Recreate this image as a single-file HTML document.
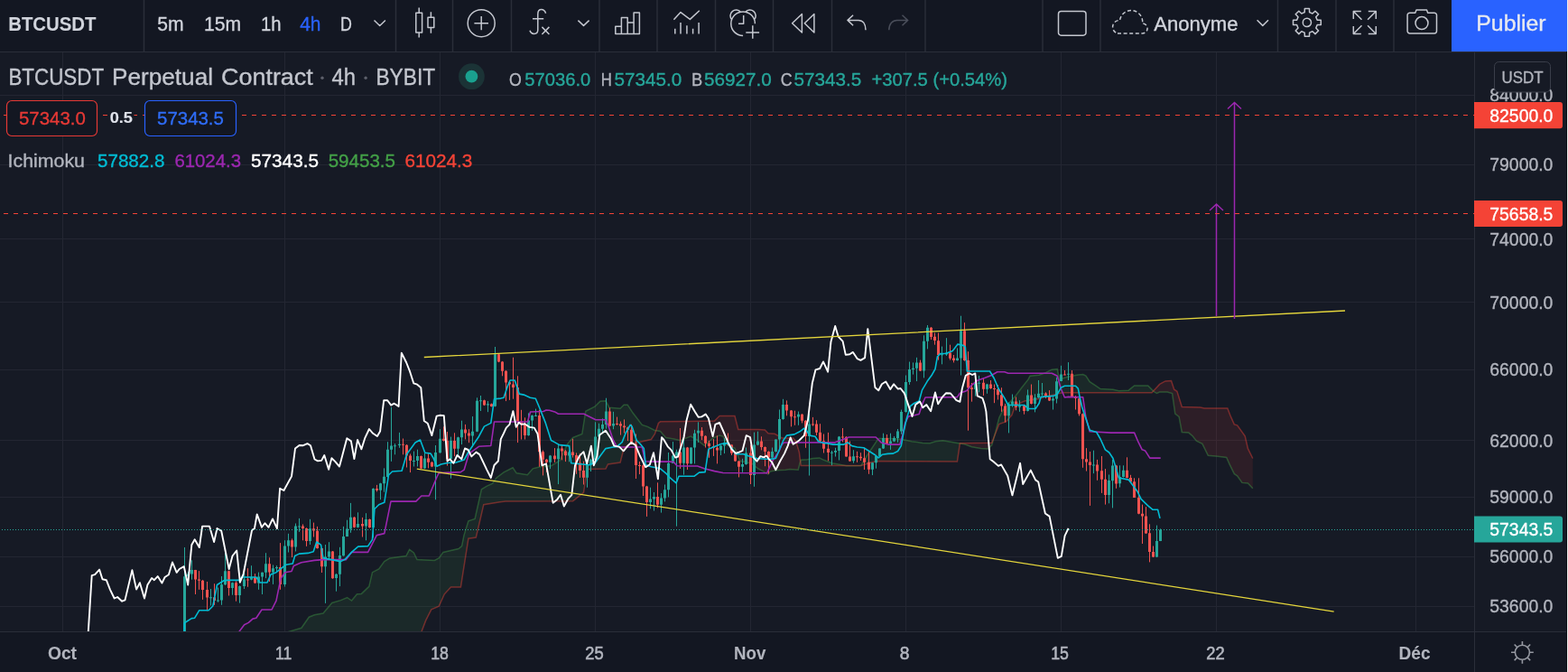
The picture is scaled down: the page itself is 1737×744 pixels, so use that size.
<!DOCTYPE html><html><head><meta charset="utf-8"><title>BTCUSDT</title><style>
html,body{margin:0;padding:0;background:#131722;width:1737px;height:744px;overflow:hidden}
svg{display:block;position:absolute;left:0;top:0}
text{font-family:"Liberation Sans",Arial,sans-serif}
</style></head><body>
<svg width="1737" height="744" viewBox="0 0 1737 744">
<defs><clipPath id="ch"><rect x="0" y="58" width="1633" height="641"/></clipPath></defs>
<rect x="0" y="0" width="1737" height="744" fill="#131722"/>
<rect x="0" y="58" width="1633" height="641" fill="#161a25"/>
<rect x="1634" y="58" width="102" height="641" fill="#161a25"/>
<path d="M0,105.5H1633 M0,182.5H1633 M0,264.5H1633 M0,334.5H1633 M0,409.5H1633 M0,487.5H1633 M0,550.5H1633 M0,616.5H1633 M0,671.5H1633 M69.5,58V699 M315.5,58V699 M487.5,58V699 M659.5,58V699 M831.5,58V699 M1003.5,58V699 M1175.5,58V699 M1347.5,58V699 M1568.5,58V699" stroke="#232632" stroke-width="1" fill="none"/>
<g clip-path="url(#ch)">
<path d="M318.0,705.0 L318.5,702.9 L319.0,700.8 L319.5,699.4 L320.0,699.3 L320.5,699.2 L321.0,699.0 L321.5,698.9 L322.0,698.7 L322.5,698.6 L323.0,698.4 L323.5,698.3 L324.0,698.1 L324.5,698.0 L325.0,697.9 L325.5,697.7 L326.0,697.6 L326.5,697.4 L327.0,697.3 L327.5,697.1 L328.0,697.0 L328.5,696.9 L329.0,696.7 L329.5,696.6 L330.0,696.4 L330.5,696.3 L331.0,696.1 L331.5,696.0 L332.0,695.8 L332.5,695.7 L333.0,695.6 L333.5,695.4 L334.0,695.2 L334.5,694.4 L335.0,693.7 L335.5,693.0 L336.0,692.3 L336.5,691.6 L337.0,690.8 L337.5,690.1 L338.0,689.4 L338.5,688.7 L339.0,688.0 L339.5,687.2 L340.0,686.5 L340.5,685.8 L341.0,685.1 L341.5,684.4 L342.0,683.6 L342.5,683.1 L343.0,682.9 L343.5,682.7 L344.0,682.5 L344.5,682.3 L345.0,682.1 L345.5,681.9 L346.0,681.7 L346.5,681.5 L347.0,681.4 L347.5,681.2 L348.0,681.0 L348.5,680.8 L349.0,680.7 L349.5,680.6 L350.0,680.5 L350.5,680.4 L351.0,680.3 L351.5,680.3 L352.0,680.2 L352.5,680.1 L353.0,680.0 L353.5,679.9 L354.0,679.8 L354.5,679.7 L355.0,679.6 L355.5,679.5 L356.0,679.5 L356.5,679.4 L357.0,679.3 L357.5,679.2 L358.0,679.1 L358.5,678.5 L359.0,677.9 L359.5,677.3 L360.0,676.7 L360.5,676.1 L361.0,675.5 L361.5,674.9 L362.0,674.3 L362.5,673.7 L363.0,673.1 L363.5,672.5 L364.0,671.9 L364.5,671.3 L365.0,670.7 L365.5,670.1 L366.0,669.5 L366.5,668.9 L367.0,668.3 L367.5,667.7 L368.0,667.4 L368.5,667.3 L369.0,667.1 L369.5,667.0 L370.0,666.8 L370.5,666.7 L371.0,666.5 L371.5,666.4 L372.0,666.2 L372.5,666.1 L373.0,665.9 L373.5,665.8 L374.0,665.6 L374.5,665.5 L375.0,665.3 L375.5,665.2 L376.0,665.0 L376.5,664.9 L377.0,664.7 L377.5,664.6 L378.0,664.3 L378.5,664.1 L379.0,663.9 L379.5,663.7 L380.0,663.5 L380.5,663.3 L381.0,663.0 L381.5,662.8 L382.0,662.6 L382.5,662.4 L383.0,662.2 L383.5,662.0 L384.0,661.8 L384.5,661.5 L385.0,661.8 L385.5,662.2 L386.0,662.5 L386.5,662.9 L387.0,663.3 L387.5,663.6 L388.0,664.0 L388.5,664.4 L389.0,664.7 L389.5,665.1 L390.0,664.5 L390.5,663.9 L391.0,663.3 L391.5,662.7 L392.0,662.1 L392.5,661.5 L393.0,660.8 L393.5,660.2 L394.0,659.6 L394.5,659.0 L395.0,658.4 L395.5,657.8 L396.0,657.8 L396.5,657.7 L397.0,657.7 L397.5,657.6 L398.0,657.6 L398.5,657.6 L399.0,657.5 L399.5,657.5 L400.0,657.4 L400.5,657.3 L401.0,656.8 L401.5,656.4 L402.0,655.9 L402.5,655.4 L403.0,654.9 L403.5,654.4 L404.0,654.0 L404.5,653.5 L405.0,653.0 L405.5,652.5 L406.0,652.1 L406.5,651.6 L407.0,651.1 L407.5,650.6 L408.0,650.2 L408.5,649.7 L409.0,648.6 L409.5,646.4 L410.0,644.3 L410.5,642.2 L411.0,640.1 L411.5,637.9 L412.0,635.8 L412.5,633.7 L413.0,633.4 L413.5,633.2 L414.0,632.9 L414.5,632.7 L415.0,632.4 L415.5,632.2 L416.0,631.9 L416.5,631.6 L417.0,631.4 L417.5,631.1 L418.0,630.9 L418.5,630.6 L419.0,630.4 L419.5,630.1 L420.0,629.6 L420.5,628.9 L421.0,628.2 L421.5,627.5 L422.0,626.8 L422.5,626.1 L423.0,625.5 L423.5,624.8 L424.0,624.1 L424.5,623.4 L425.0,622.7 L425.5,622.0 L426.0,621.5 L426.5,621.2 L427.0,620.9 L427.5,620.6 L428.0,620.2 L428.5,619.9 L429.0,619.6 L429.5,619.3 L430.0,619.0 L430.5,618.7 L431.0,618.4 L431.5,618.1 L432.0,617.9 L432.5,617.8 L433.0,617.7 L433.5,617.7 L434.0,617.6 L434.5,617.5 L435.0,617.5 L435.5,617.4 L436.0,617.3 L436.5,617.3 L437.0,617.2 L437.5,617.1 L438.0,617.1 L438.5,617.0 L439.0,616.9 L439.5,616.9 L440.0,616.8 L440.5,616.7 L441.0,616.7 L441.5,616.6 L442.0,616.5 L442.5,616.5 L443.0,616.4 L443.5,616.3 L444.0,616.3 L444.5,616.2 L445.0,616.1 L445.5,616.1 L446.0,616.0 L446.5,616.0 L447.0,615.9 L447.5,615.8 L448.0,615.8 L448.5,615.7 L449.0,615.6 L449.5,615.6 L450.0,615.3 L450.5,614.3 L451.0,613.4 L451.5,612.4 L452.0,611.4 L452.5,610.4 L453.0,609.5 L453.5,608.5 L454.0,608.6 L454.5,609.0 L455.0,609.3 L455.5,609.7 L456.0,610.1 L456.5,610.5 L457.0,610.9 L457.5,611.2 L458.0,611.6 L458.5,612.1 L459.0,613.2 L459.5,614.3 L460.0,615.3 L460.5,616.4 L461.0,617.5 L461.5,618.5 L462.0,619.6 L462.5,619.6 L463.0,619.6 L463.5,619.7 L464.0,619.7 L464.5,619.7 L465.0,619.7 L465.5,619.7 L466.0,619.8 L466.5,619.8 L467.0,619.8 L467.5,619.8 L468.0,619.8 L468.5,619.9 L469.0,619.9 L469.5,619.9 L470.0,619.9 L470.5,620.0 L471.0,620.0 L471.5,620.0 L472.0,620.0 L472.5,620.0 L473.0,620.1 L473.5,620.1 L474.0,620.1 L474.5,620.1 L475.0,620.1 L475.5,620.2 L476.0,620.2 L476.5,620.2 L477.0,620.2 L477.5,620.2 L478.0,620.3 L478.5,620.3 L479.0,620.3 L479.5,620.3 L480.0,620.3 L480.5,620.4 L481.0,620.4 L481.5,620.3 L482.0,620.1 L482.5,619.8 L483.0,619.6 L483.5,619.3 L484.0,619.0 L484.5,618.8 L485.0,618.5 L485.5,618.3 L486.0,618.0 L486.5,617.5 L487.0,616.8 L487.5,616.1 L488.0,615.5 L488.5,614.8 L489.0,614.1 L489.5,613.4 L490.0,612.8 L490.5,612.1 L491.0,611.4 L491.5,611.3 L492.0,611.2 L492.5,611.1 L493.0,610.9 L493.5,610.8 L494.0,610.7 L494.5,610.6 L495.0,610.5 L495.5,610.4 L496.0,610.3 L496.5,610.1 L497.0,610.0 L497.5,609.9 L498.0,609.8 L498.5,609.7 L499.0,609.6 L499.5,609.5 L500.0,609.3 L500.5,609.2 L501.0,609.1 L501.5,609.0 L502.0,608.9 L502.5,608.8 L503.0,608.6 L503.5,608.5 L504.0,608.4 L504.5,608.3 L505.0,608.2 L505.5,608.1 L506.0,608.0 L506.5,607.8 L507.0,607.7 L507.5,607.6 L508.0,607.5 L508.5,607.1 L509.0,606.7 L509.5,606.3 L510.0,605.9 L510.5,605.5 L511.0,605.1 L511.5,604.7 L512.0,602.6 L512.5,600.1 L513.0,597.6 L513.5,595.1 L514.0,592.6 L514.5,591.0 L515.0,589.4 L515.5,587.8 L516.0,586.2 L516.5,584.5 L517.0,582.9 L517.5,581.3 L518.0,579.7 L518.5,578.1 L519.0,576.8 L519.5,576.6 L520.0,576.4 L520.5,576.3 L521.0,576.1 L521.5,575.9 L522.0,575.8 L522.5,575.6 L523.0,575.4 L523.5,575.3 L524.0,575.1 L524.5,574.9 L525.0,574.8 L525.5,574.6 L526.0,574.4 L526.5,572.6 L527.0,570.4 L527.5,568.1 L528.0,565.9 L528.5,563.7 L529.0,561.4 L529.5,559.2 L530.0,557.0 L530.5,554.8 L531.0,552.5 L531.5,550.3 L532.0,548.1 L532.5,545.8 L533.0,543.6 L533.5,541.7 L534.0,541.4 L534.5,541.1 L535.0,540.8 L535.5,540.5 L536.0,540.2 L536.5,539.9 L537.0,539.6 L537.5,539.3 L538.0,539.0 L538.5,538.7 L539.0,538.3 L539.5,538.1 L540.0,537.8 L540.5,537.6 L541.0,537.4 L541.5,537.2 L542.0,537.0 L542.5,536.8 L543.0,536.6 L543.5,536.4 L544.0,536.1 L544.5,535.9 L545.0,535.7 L545.5,535.5 L546.0,534.8 L546.5,534.0 L547.0,533.3 L547.5,532.6 L548.0,531.8 L548.5,531.1 L549.0,530.4 L549.5,529.6 L550.0,528.9 L550.5,528.5 L551.0,528.1 L551.5,527.8 L552.0,527.4 L552.5,527.0 L553.0,526.6 L553.5,526.3 L554.0,525.9 L554.5,525.5 L555.0,525.1 L555.5,524.8 L556.0,524.4 L556.5,524.0 L557.0,523.6 L557.5,523.3 L558.0,522.9 L558.5,522.6 L559.0,522.3 L559.5,522.1 L560.0,521.8 L560.5,521.6 L561.0,521.3 L561.5,521.1 L562.0,520.8 L562.5,520.6 L563.0,520.3 L563.5,520.1 L564.0,519.8 L564.5,519.6 L565.0,519.3 L565.5,519.1 L566.0,518.8 L566.5,518.6 L567.0,518.3 L567.5,518.1 L568.0,517.8 L568.5,518.4 L569.0,519.1 L569.5,519.8 L570.0,520.6 L570.5,521.3 L571.0,522.0 L571.5,522.8 L572.0,523.5 L572.5,523.8 L573.0,523.9 L573.5,524.0 L574.0,524.1 L574.5,524.2 L575.0,524.3 L575.5,524.3 L576.0,524.4 L576.5,524.5 L577.0,524.6 L577.5,524.7 L578.0,524.8 L578.5,524.8 L579.0,524.9 L579.5,525.0 L580.0,525.1 L580.5,525.2 L581.0,525.3 L581.5,525.3 L582.0,525.4 L582.5,525.5 L583.0,525.6 L583.5,525.7 L584.0,525.8 L584.5,525.6 L585.0,525.0 L585.5,524.4 L586.0,523.8 L586.5,523.2 L587.0,522.6 L587.5,522.1 L588.0,521.5 L588.5,520.9 L589.0,520.3 L589.5,519.7 L590.0,519.1 L590.5,518.8 L591.0,518.6 L591.5,518.5 L592.0,518.4 L592.5,518.3 L593.0,518.1 L593.5,518.0 L594.0,517.9 L594.5,517.8 L595.0,517.6 L595.5,517.5 L596.0,517.4 L596.5,517.3 L597.0,517.1 L597.5,517.0 L598.0,516.9 L598.5,516.8 L599.0,516.8 L599.5,516.7 L600.0,516.7 L600.5,516.6 L601.0,516.6 L601.5,516.5 L602.0,516.5 L602.5,516.5 L603.0,516.4 L603.5,516.4 L604.0,516.3 L604.5,516.3 L605.0,516.3 L605.5,516.2 L606.0,516.2 L606.5,516.1 L607.0,516.1 L607.5,516.0 L608.0,516.0 L608.5,516.0 L609.0,515.9 L609.5,515.9 L610.0,515.8 L610.5,515.8 L611.0,515.5 L611.5,515.2 L612.0,514.9 L612.5,514.6 L613.0,514.3 L613.5,514.0 L614.0,513.7 L614.5,513.4 L615.0,513.1 L615.5,512.7 L616.0,512.4 L616.5,512.1 L617.0,511.8 L617.5,511.5 L618.0,511.2 L618.5,510.9 L619.0,510.6 L619.5,510.3 L620.0,510.0 L620.5,508.9 L621.0,507.9 L621.5,506.8 L622.0,505.7 L622.5,504.7 L623.0,503.6 L623.5,502.5 L624.0,501.4 L624.5,500.4 L625.0,499.3 L625.5,498.2 L626.0,497.2 L626.5,496.1 L627.0,495.0 L627.5,494.0 L628.0,492.9 L628.5,491.8 L629.0,491.1 L629.5,490.6 L630.0,490.0 L630.5,489.4 L631.0,488.8 L631.5,488.2 L632.0,487.6 L632.5,487.1 L633.0,486.5 L633.5,485.9 L634.0,485.3 L634.5,484.7 L635.0,484.4 L635.5,484.2 L636.0,484.0 L636.5,483.8 L637.0,483.6 L637.5,483.4 L638.0,483.2 L638.5,483.0 L639.0,482.8 L639.5,482.6 L640.0,482.4 L640.5,482.2 L641.0,482.0 L641.5,481.8 L642.0,481.6 L642.5,481.4 L643.0,481.2 L643.5,481.0 L644.0,480.8 L644.5,480.6 L645.0,479.2 L645.5,476.1 L646.0,472.9 L646.5,469.8 L647.0,466.6 L647.5,463.5 L648.0,460.3 L648.5,457.2 L649.0,455.2 L649.5,454.9 L650.0,454.7 L650.5,454.4 L651.0,454.2 L651.5,453.9 L652.0,453.7 L652.5,453.4 L653.0,453.2 L653.5,452.9 L654.0,452.7 L654.5,452.4 L655.0,452.2 L655.5,451.9 L656.0,451.7 L656.5,451.4 L657.0,451.2 L657.5,450.9 L658.0,450.7 L658.5,450.4 L659.0,450.1 L659.5,449.6 L660.0,449.1 L660.5,448.6 L661.0,448.1 L661.5,447.6 L662.0,447.1 L662.5,446.6 L663.0,446.1 L663.5,445.6 L664.0,445.1 L664.5,444.6 L665.0,444.2 L665.5,444.2 L666.0,444.1 L666.5,444.1 L667.0,444.1 L667.5,444.0 L668.0,444.0 L668.5,444.0 L669.0,443.9 L669.5,443.9 L670.0,443.9 L670.5,443.8 L671.0,443.8 L671.5,444.7 L672.0,445.7 L672.5,446.6 L673.0,447.6 L673.5,448.5 L674.0,449.4 L674.5,450.4 L675.0,451.3 L675.5,451.3 L676.0,451.4 L676.5,451.4 L677.0,451.5 L677.5,451.5 L678.0,451.5 L678.5,451.6 L679.0,451.6 L679.5,451.7 L680.0,451.7 L680.5,451.8 L681.0,451.8 L681.5,451.8 L682.0,451.9 L682.5,451.9 L683.0,452.0 L683.5,452.0 L684.0,452.0 L684.5,452.1 L685.0,452.1 L685.5,452.2 L686.0,452.2 L686.5,452.3 L687.0,452.3 L687.5,451.9 L688.0,451.4 L688.5,450.9 L689.0,450.4 L689.5,449.8 L690.0,449.3 L690.5,448.8 L691.0,448.3 L691.5,448.2 L692.0,448.2 L692.5,448.2 L693.0,448.2 L693.5,448.2 L694.0,448.2 L694.5,448.2 L695.0,448.2 L695.5,448.7 L696.0,449.4 L696.5,450.2 L697.0,450.9 L697.5,451.7 L698.0,452.4 L698.5,453.2 L699.0,454.0 L699.5,454.7 L700.0,455.5 L700.5,456.2 L701.0,457.0 L701.5,457.7 L702.0,458.3 L702.5,459.0 L703.0,459.6 L703.5,460.3 L704.0,460.9 L704.5,461.6 L705.0,462.2 L705.5,462.9 L706.0,463.5 L706.5,464.2 L707.0,464.8 L707.5,465.5 L708.0,466.1 L708.5,466.8 L709.0,467.4 L709.5,468.1 L710.0,468.7 L710.5,469.4 L711.0,470.0 L711.5,470.5 L712.0,470.6 L712.5,470.8 L713.0,471.0 L713.5,471.1 L714.0,471.3 L714.5,471.5 L715.0,471.6 L715.5,471.8 L716.0,472.0 L716.5,472.1 L717.0,472.3 L717.5,472.5 L718.0,472.8 L718.5,473.0 L719.0,473.3 L719.5,473.5 L720.0,473.8 L720.5,474.0 L721.0,474.3 L721.5,474.5 L722.0,474.8 L722.5,475.0 L723.0,475.3 L723.5,475.5 L724.0,475.8 L724.5,476.0 L725.0,476.3 L725.5,476.5 L726.0,476.6 L726.5,476.7 L727.0,476.8 L727.0,475.7 L726.5,477.2 L726.0,478.7 L725.5,480.2 L725.0,481.1 L724.5,481.8 L724.0,482.6 L723.5,483.3 L723.0,484.1 L722.5,484.8 L722.0,485.6 L721.5,486.3 L721.0,486.6 L720.5,486.7 L720.0,486.8 L719.5,486.9 L719.0,487.0 L718.5,487.2 L718.0,487.3 L717.5,487.4 L717.0,487.5 L716.5,487.6 L716.0,487.7 L715.5,487.8 L715.0,488.0 L714.5,488.1 L714.0,488.2 L713.5,488.3 L713.0,488.4 L712.5,488.5 L712.0,488.6 L711.5,488.8 L711.0,488.9 L710.5,489.0 L710.0,489.1 L709.5,489.2 L709.0,489.3 L708.5,489.4 L708.0,489.5 L707.5,489.7 L707.0,489.8 L706.5,489.9 L706.0,490.0 L705.5,490.1 L705.0,490.2 L704.5,490.3 L704.0,490.5 L703.5,490.6 L703.0,490.7 L702.5,490.8 L702.0,490.9 L701.5,491.0 L701.0,491.1 L700.5,491.2 L700.0,491.4 L699.5,491.5 L699.0,491.6 L698.5,491.7 L698.0,491.8 L697.5,491.9 L697.0,492.1 L696.5,492.4 L696.0,492.7 L695.5,493.0 L695.0,493.3 L694.5,493.6 L694.0,493.9 L693.5,494.2 L693.0,494.5 L692.5,494.8 L692.0,495.1 L691.5,495.4 L691.0,496.7 L690.5,498.6 L690.0,500.6 L689.5,502.6 L689.0,504.5 L688.5,506.5 L688.0,508.5 L687.5,510.4 L687.0,512.0 L686.5,512.1 L686.0,512.2 L685.5,512.2 L685.0,512.3 L684.5,512.4 L684.0,512.5 L683.5,512.5 L683.0,512.6 L682.5,512.7 L682.0,512.8 L681.5,512.8 L681.0,512.9 L680.5,513.0 L680.0,513.0 L679.5,513.1 L679.0,513.2 L678.5,513.3 L678.0,513.3 L677.5,513.4 L677.0,513.5 L676.5,513.6 L676.0,513.6 L675.5,513.7 L675.0,513.8 L674.5,513.9 L674.0,513.9 L673.5,514.0 L673.0,515.0 L672.5,516.0 L672.0,517.0 L671.5,518.0 L671.0,519.0 L670.5,519.0 L670.0,519.0 L669.5,519.0 L669.0,519.0 L668.5,519.1 L668.0,519.1 L667.5,519.1 L667.0,519.1 L666.5,519.1 L666.0,519.1 L665.5,519.1 L665.0,519.1 L664.5,519.2 L664.0,519.2 L663.5,519.2 L663.0,519.2 L662.5,519.2 L662.0,519.2 L661.5,519.2 L661.0,519.2 L660.5,519.3 L660.0,519.3 L659.5,519.3 L659.0,519.3 L658.5,519.3 L658.0,519.3 L657.5,519.3 L657.0,519.3 L656.5,519.4 L656.0,519.4 L655.5,519.4 L655.0,519.4 L654.5,519.4 L654.0,519.4 L653.5,519.4 L653.0,519.4 L652.5,519.5 L652.0,519.5 L651.5,519.5 L651.0,519.5 L650.5,519.5 L650.0,522.7 L649.5,526.0 L649.0,529.2 L648.5,532.5 L648.0,535.7 L647.5,538.9 L647.0,542.2 L646.5,545.4 L646.0,545.8 L645.5,546.2 L645.0,546.6 L644.5,547.0 L644.0,547.4 L643.5,547.8 L643.0,548.2 L642.5,548.6 L642.0,548.9 L641.5,549.3 L641.0,549.7 L640.5,550.1 L640.0,550.5 L639.5,550.9 L639.0,551.3 L638.5,551.7 L638.0,552.1 L637.5,552.5 L637.0,552.9 L636.5,553.3 L636.0,553.7 L635.5,554.1 L635.0,554.5 L634.5,554.7 L634.0,554.7 L633.5,554.7 L633.0,554.7 L632.5,554.7 L632.0,554.7 L631.5,554.7 L631.0,554.7 L630.5,554.7 L630.0,554.7 L629.5,554.7 L629.0,554.7 L628.5,554.7 L628.0,554.7 L627.5,554.7 L627.0,554.7 L626.5,554.7 L626.0,554.7 L625.5,554.7 L625.0,554.8 L624.5,554.8 L624.0,554.8 L623.5,554.8 L623.0,554.8 L622.5,554.8 L622.0,554.8 L621.5,554.8 L621.0,554.8 L620.5,554.8 L620.0,554.8 L619.5,554.8 L619.0,554.8 L618.5,554.8 L618.0,554.8 L617.5,554.8 L617.0,554.8 L616.5,554.8 L616.0,554.8 L615.5,554.8 L615.0,554.8 L614.5,554.8 L614.0,554.8 L613.5,554.8 L613.0,554.8 L612.5,554.8 L612.0,554.8 L611.5,554.8 L611.0,554.8 L610.5,554.8 L610.0,554.8 L609.5,554.8 L609.0,554.8 L608.5,554.8 L608.0,554.8 L607.5,554.8 L607.0,554.8 L606.5,554.9 L606.0,554.9 L605.5,554.9 L605.0,554.9 L604.5,554.9 L604.0,554.9 L603.5,554.9 L603.0,554.9 L602.5,554.9 L602.0,554.9 L601.5,554.9 L601.0,554.9 L600.5,554.9 L600.0,554.9 L599.5,554.9 L599.0,554.9 L598.5,554.9 L598.0,554.9 L597.5,554.9 L597.0,554.9 L596.5,554.9 L596.0,554.9 L595.5,554.9 L595.0,554.9 L594.5,554.9 L594.0,554.9 L593.5,554.9 L593.0,554.9 L592.5,554.9 L592.0,554.9 L591.5,554.9 L591.0,554.9 L590.5,554.9 L590.0,554.9 L589.5,554.9 L589.0,554.9 L588.5,554.9 L588.0,555.0 L587.5,555.0 L587.0,555.0 L586.5,555.0 L586.0,555.0 L585.5,555.0 L585.0,555.0 L584.5,555.0 L584.0,555.0 L583.5,555.0 L583.0,555.0 L582.5,555.0 L582.0,555.0 L581.5,555.0 L581.0,555.0 L580.5,555.0 L580.0,555.0 L579.5,555.0 L579.0,555.0 L578.5,555.0 L578.0,555.0 L577.5,555.0 L577.0,555.0 L576.5,555.0 L576.0,555.0 L575.5,555.0 L575.0,555.0 L574.5,555.0 L574.0,555.0 L573.5,555.0 L573.0,555.0 L572.5,555.0 L572.0,555.0 L571.5,555.0 L571.0,555.0 L570.5,555.0 L570.0,555.0 L569.5,555.0 L569.0,555.1 L568.5,555.1 L568.0,555.1 L567.5,555.1 L567.0,555.1 L566.5,555.1 L566.0,555.1 L565.5,555.1 L565.0,555.1 L564.5,555.1 L564.0,555.1 L563.5,555.1 L563.0,555.1 L562.5,555.1 L562.0,555.1 L561.5,555.1 L561.0,555.1 L560.5,555.1 L560.0,555.1 L559.5,555.2 L559.0,555.2 L558.5,555.3 L558.0,555.3 L557.5,555.4 L557.0,555.5 L556.5,555.5 L556.0,555.6 L555.5,555.6 L555.0,555.7 L554.5,555.7 L554.0,555.8 L553.5,555.9 L553.0,555.9 L552.5,556.0 L552.0,556.1 L551.5,556.2 L551.0,556.3 L550.5,556.3 L550.0,556.4 L549.5,556.5 L549.0,556.6 L548.5,556.7 L548.0,556.7 L547.5,556.8 L547.0,556.9 L546.5,557.0 L546.0,557.1 L545.5,557.1 L545.0,557.2 L544.5,557.3 L544.0,557.4 L543.5,557.5 L543.0,557.5 L542.5,557.6 L542.0,557.7 L541.5,557.8 L541.0,557.9 L540.5,557.9 L540.0,558.0 L539.5,558.1 L539.0,558.2 L538.5,558.3 L538.0,558.3 L537.5,558.4 L537.0,558.5 L536.5,558.6 L536.0,558.7 L535.5,560.0 L535.0,562.1 L534.5,564.3 L534.0,566.4 L533.5,568.5 L533.0,570.7 L532.5,572.8 L532.0,574.9 L531.5,577.1 L531.0,579.2 L530.5,581.3 L530.0,583.5 L529.5,585.6 L529.0,587.7 L528.5,589.9 L528.0,592.0 L527.5,594.1 L527.0,595.0 L526.5,595.1 L526.0,595.2 L525.5,595.3 L525.0,595.3 L524.5,595.4 L524.0,595.5 L523.5,595.5 L523.0,595.6 L522.5,595.7 L522.0,595.8 L521.5,595.8 L521.0,595.9 L520.5,596.0 L520.0,596.0 L519.5,596.1 L519.0,596.2 L518.5,598.7 L518.0,601.9 L517.5,605.0 L517.0,608.2 L516.5,611.4 L516.0,614.5 L515.5,617.7 L515.0,620.8 L514.5,624.0 L514.0,627.2 L513.5,630.3 L513.0,633.5 L512.5,636.6 L512.0,639.8 L511.5,643.0 L511.0,646.1 L510.5,649.3 L510.0,649.9 L509.5,649.9 L509.0,649.9 L508.5,649.9 L508.0,649.9 L507.5,649.9 L507.0,649.9 L506.5,649.9 L506.0,649.9 L505.5,649.9 L505.0,649.9 L504.5,649.9 L504.0,649.9 L503.5,649.9 L503.0,649.9 L502.5,649.9 L502.0,649.9 L501.5,649.9 L501.0,649.9 L500.5,649.9 L500.0,649.9 L499.5,649.9 L499.0,650.4 L498.5,651.0 L498.0,651.5 L497.5,652.1 L497.0,652.6 L496.5,653.2 L496.0,653.7 L495.5,654.3 L495.0,654.8 L494.5,655.4 L494.0,655.9 L493.5,656.5 L493.0,657.0 L492.5,657.6 L492.0,658.5 L491.5,659.6 L491.0,660.7 L490.5,661.8 L490.0,662.9 L489.5,664.0 L489.0,665.0 L488.5,666.1 L488.0,667.2 L487.5,668.3 L487.0,669.4 L486.5,670.5 L486.0,671.3 L485.5,671.5 L485.0,671.7 L484.5,671.9 L484.0,672.1 L483.5,672.4 L483.0,672.6 L482.5,672.8 L482.0,673.0 L481.5,673.2 L481.0,673.4 L480.5,673.6 L480.0,673.9 L479.5,674.1 L479.0,674.3 L478.5,674.5 L478.0,674.7 L477.5,675.4 L477.0,676.4 L476.5,677.4 L476.0,678.4 L475.5,679.4 L475.0,680.4 L474.5,681.3 L474.0,682.3 L473.5,683.3 L473.0,684.3 L472.5,685.3 L472.0,686.3 L471.5,687.4 L471.0,688.7 L470.5,690.0 L470.0,691.4 L469.5,692.7 L469.0,694.0 L468.5,695.3 L468.0,696.6 L467.5,697.9 L467.0,699.2 L466.5,726.4 L466.0,760.0 L465.5,760.0 L465.0,760.0 L464.5,760.0 L464.0,760.0 L463.5,760.0 L463.0,760.0 L462.5,760.0 L462.0,760.0 L461.5,760.0 L461.0,760.0 L460.5,760.0 L460.0,760.0 L459.5,760.0 L459.0,760.0 L458.5,760.0 L458.0,760.0 L457.5,760.0 L457.0,760.0 L456.5,760.0 L456.0,760.0 L455.5,760.0 L455.0,760.0 L454.5,760.0 L454.0,760.0 L453.5,760.0 L453.0,760.0 L452.5,760.0 L452.0,760.0 L451.5,760.0 L451.0,760.0 L450.5,760.0 L450.0,760.0 L449.5,760.0 L449.0,760.0 L448.5,760.0 L448.0,760.0 L447.5,760.0 L447.0,760.0 L446.5,760.0 L446.0,760.0 L445.5,760.0 L445.0,760.0 L444.5,760.0 L444.0,760.0 L443.5,760.0 L443.0,760.0 L442.5,760.0 L442.0,760.0 L441.5,760.0 L441.0,760.0 L440.5,760.0 L440.0,760.0 L439.5,760.0 L439.0,760.0 L438.5,760.0 L438.0,760.0 L437.5,760.0 L437.0,760.0 L436.5,760.0 L436.0,760.0 L435.5,760.0 L435.0,760.0 L434.5,760.0 L434.0,760.0 L433.5,760.0 L433.0,760.0 L432.5,760.0 L432.0,760.0 L431.5,760.0 L431.0,760.0 L430.5,760.0 L430.0,760.0 L429.5,760.0 L429.0,760.0 L428.5,760.0 L428.0,760.0 L427.5,760.0 L427.0,760.0 L426.5,760.0 L426.0,760.0 L425.5,760.0 L425.0,760.0 L424.5,760.0 L424.0,760.0 L423.5,760.0 L423.0,760.0 L422.5,760.0 L422.0,760.0 L421.5,760.0 L421.0,760.0 L420.5,760.0 L420.0,760.0 L419.5,760.0 L419.0,760.0 L418.5,760.0 L418.0,760.0 L417.5,760.0 L417.0,760.0 L416.5,760.0 L416.0,760.0 L415.5,760.0 L415.0,760.0 L414.5,760.0 L414.0,760.0 L413.5,760.0 L413.0,760.0 L412.5,760.0 L412.0,760.0 L411.5,760.0 L411.0,760.0 L410.5,760.0 L410.0,760.0 L409.5,760.0 L409.0,760.0 L408.5,760.0 L408.0,760.0 L407.5,760.0 L407.0,760.0 L406.5,760.0 L406.0,760.0 L405.5,760.0 L405.0,760.0 L404.5,760.0 L404.0,760.0 L403.5,760.0 L403.0,760.0 L402.5,760.0 L402.0,760.0 L401.5,760.0 L401.0,760.0 L400.5,760.0 L400.0,760.0 L399.5,760.0 L399.0,760.0 L398.5,760.0 L398.0,760.0 L397.5,760.0 L397.0,760.0 L396.5,760.0 L396.0,760.0 L395.5,760.0 L395.0,760.0 L394.5,760.0 L394.0,760.0 L393.5,760.0 L393.0,760.0 L392.5,760.0 L392.0,760.0 L391.5,760.0 L391.0,760.0 L390.5,760.0 L390.0,760.0 L389.5,760.0 L389.0,760.0 L388.5,760.0 L388.0,760.0 L387.5,760.0 L387.0,760.0 L386.5,760.0 L386.0,760.0 L385.5,760.0 L385.0,760.0 L384.5,760.0 L384.0,760.0 L383.5,760.0 L383.0,760.0 L382.5,760.0 L382.0,760.0 L381.5,760.0 L381.0,760.0 L380.5,760.0 L380.0,760.0 L379.5,760.0 L379.0,760.0 L378.5,760.0 L378.0,760.0 L377.5,760.0 L377.0,760.0 L376.5,760.0 L376.0,760.0 L375.5,760.0 L375.0,760.0 L374.5,760.0 L374.0,760.0 L373.5,760.0 L373.0,760.0 L372.5,760.0 L372.0,760.0 L371.5,760.0 L371.0,760.0 L370.5,760.0 L370.0,760.0 L369.5,760.0 L369.0,760.0 L368.5,760.0 L368.0,760.0 L367.5,760.0 L367.0,760.0 L366.5,760.0 L366.0,760.0 L365.5,760.0 L365.0,760.0 L364.5,760.0 L364.0,760.0 L363.5,760.0 L363.0,760.0 L362.5,760.0 L362.0,760.0 L361.5,760.0 L361.0,760.0 L360.5,760.0 L360.0,760.0 L359.5,760.0 L359.0,760.0 L358.5,760.0 L358.0,760.0 L357.5,760.0 L357.0,760.0 L356.5,760.0 L356.0,760.0 L355.5,760.0 L355.0,760.0 L354.5,760.0 L354.0,760.0 L353.5,760.0 L353.0,760.0 L352.5,760.0 L352.0,760.0 L351.5,760.0 L351.0,760.0 L350.5,760.0 L350.0,760.0 L349.5,760.0 L349.0,760.0 L348.5,760.0 L348.0,760.0 L347.5,760.0 L347.0,760.0 L346.5,760.0 L346.0,760.0 L345.5,760.0 L345.0,760.0 L344.5,760.0 L344.0,760.0 L343.5,760.0 L343.0,760.0 L342.5,760.0 L342.0,760.0 L341.5,760.0 L341.0,760.0 L340.5,760.0 L340.0,760.0 L339.5,760.0 L339.0,760.0 L338.5,760.0 L338.0,760.0 L337.5,760.0 L337.0,760.0 L336.5,760.0 L336.0,760.0 L335.5,760.0 L335.0,760.0 L334.5,760.0 L334.0,760.0 L333.5,760.0 L333.0,760.0 L332.5,760.0 L332.0,760.0 L331.5,760.0 L331.0,760.0 L330.5,760.0 L330.0,760.0 L329.5,760.0 L329.0,760.0 L328.5,760.0 L328.0,760.0 L327.5,760.0 L327.0,760.0 L326.5,760.0 L326.0,760.0 L325.5,760.0 L325.0,760.0 L324.5,760.0 L324.0,760.0 L323.5,760.0 L323.0,760.0 L322.5,760.0 L322.0,760.0 L321.5,760.0 L321.0,760.0 L320.5,760.0 L320.0,760.0 L319.5,760.0 L319.0,760.0 L318.5,760.0 L318.0,760.0Z M887.0,509.9 L887.5,509.3 L888.0,509.2 L888.5,509.2 L889.0,509.2 L889.5,509.1 L890.0,509.1 L890.5,509.0 L891.0,509.0 L891.5,508.9 L892.0,508.9 L892.5,508.9 L893.0,508.8 L893.5,508.8 L894.0,508.7 L894.5,508.7 L895.0,508.6 L895.5,508.5 L896.0,508.4 L896.5,508.3 L897.0,508.2 L897.5,508.1 L898.0,508.0 L898.5,507.9 L899.0,507.8 L899.5,507.7 L900.0,507.6 L900.5,507.5 L901.0,507.5 L901.5,507.4 L902.0,507.4 L902.5,507.3 L903.0,507.3 L903.5,507.3 L904.0,507.2 L904.5,507.2 L905.0,507.1 L905.5,507.1 L906.0,507.0 L906.5,507.0 L907.0,507.0 L907.5,506.9 L908.0,507.0 L908.5,507.2 L909.0,507.5 L909.5,507.8 L910.0,508.0 L910.5,508.2 L911.0,508.5 L911.5,508.8 L912.0,509.0 L912.5,509.2 L913.0,509.5 L913.5,509.7 L914.0,509.9 L914.5,510.1 L915.0,510.3 L915.5,510.5 L916.0,510.7 L916.5,510.9 L917.0,511.0 L917.5,511.2 L918.0,511.4 L918.5,511.6 L919.0,511.8 L919.5,512.0 L920.0,512.2 L920.5,512.4 L921.0,512.6 L921.5,512.8 L922.0,512.9 L922.5,513.0 L923.0,513.1 L923.5,513.1 L924.0,513.2 L924.5,513.3 L925.0,513.4 L925.5,513.5 L926.0,513.5 L926.5,513.6 L927.0,513.7 L927.5,513.8 L928.0,513.9 L928.5,514.0 L929.0,514.0 L929.5,514.1 L930.0,514.2 L930.5,514.3 L931.0,514.4 L931.5,514.5 L932.0,514.6 L932.5,514.7 L933.0,514.8 L933.5,514.9 L934.0,515.0 L934.5,515.1 L935.0,515.2 L935.5,515.3 L936.0,515.4 L936.5,515.5 L937.0,515.6 L937.0,515.5 L936.5,515.5 L936.0,515.5 L935.5,515.5 L935.0,515.5 L934.5,515.5 L934.0,515.5 L933.5,515.5 L933.0,515.5 L932.5,515.5 L932.0,515.5 L931.5,515.5 L931.0,515.5 L930.5,515.5 L930.0,515.5 L929.5,515.5 L929.0,515.5 L928.5,515.5 L928.0,515.5 L927.5,515.5 L927.0,515.5 L926.5,515.5 L926.0,515.5 L925.5,515.5 L925.0,515.5 L924.5,515.5 L924.0,515.5 L923.5,515.5 L923.0,515.5 L922.5,515.5 L922.0,515.5 L921.5,515.5 L921.0,515.5 L920.5,515.4 L920.0,515.4 L919.5,515.4 L919.0,515.4 L918.5,515.4 L918.0,515.4 L917.5,515.4 L917.0,515.4 L916.5,515.4 L916.0,515.4 L915.5,515.4 L915.0,515.4 L914.5,515.4 L914.0,515.4 L913.5,515.4 L913.0,515.4 L912.5,515.4 L912.0,515.4 L911.5,515.4 L911.0,515.4 L910.5,515.4 L910.0,515.4 L909.5,515.4 L909.0,515.4 L908.5,515.4 L908.0,515.4 L907.5,515.4 L907.0,515.4 L906.5,515.4 L906.0,515.4 L905.5,515.4 L905.0,515.4 L904.5,515.4 L904.0,515.4 L903.5,515.4 L903.0,515.4 L902.5,515.4 L902.0,515.4 L901.5,515.4 L901.0,515.4 L900.5,515.4 L900.0,515.4 L899.5,515.4 L899.0,515.4 L898.5,515.4 L898.0,515.4 L897.5,515.4 L897.0,515.4 L896.5,515.4 L896.0,515.4 L895.5,515.4 L895.0,515.4 L894.5,515.4 L894.0,515.4 L893.5,515.4 L893.0,515.4 L892.5,515.4 L892.0,515.4 L891.5,515.4 L891.0,515.4 L890.5,515.4 L890.0,515.4 L889.5,515.4 L889.0,515.4 L888.5,515.4 L888.0,515.4 L887.5,515.4 L887.0,513.8Z M954.0,515.3 L954.5,514.5 L955.0,513.6 L955.5,512.7 L956.0,511.9 L956.5,511.0 L957.0,510.2 L957.5,509.3 L958.0,508.4 L958.5,507.6 L959.0,506.7 L959.5,505.9 L960.0,505.0 L960.5,504.3 L961.0,503.5 L961.5,502.8 L962.0,502.0 L962.5,501.3 L963.0,500.5 L963.5,499.8 L964.0,499.0 L964.5,498.3 L965.0,497.5 L965.5,496.8 L966.0,496.1 L966.5,495.3 L967.0,494.6 L967.5,493.8 L968.0,493.1 L968.5,492.3 L969.0,491.6 L969.5,490.8 L970.0,490.1 L970.5,489.3 L971.0,488.6 L971.5,487.8 L972.0,487.1 L972.5,486.3 L973.0,485.6 L973.5,485.4 L974.0,485.4 L974.5,485.4 L975.0,485.4 L975.5,485.4 L976.0,485.4 L976.5,485.4 L977.0,485.4 L977.5,485.4 L978.0,485.4 L978.5,485.4 L979.0,485.4 L979.5,485.4 L980.0,485.4 L980.5,485.4 L981.0,485.4 L981.5,485.4 L982.0,485.4 L982.5,485.4 L983.0,485.4 L983.5,485.4 L984.0,485.4 L984.5,485.4 L985.0,485.4 L985.5,485.4 L986.0,485.4 L986.5,485.4 L987.0,485.4 L987.5,485.5 L988.0,485.5 L988.5,485.5 L989.0,485.6 L989.5,485.6 L990.0,485.6 L990.5,485.7 L991.0,485.7 L991.5,485.7 L992.0,485.8 L992.5,485.8 L993.0,485.8 L993.5,485.9 L994.0,485.9 L994.5,485.9 L995.0,486.0 L995.5,486.0 L996.0,486.0 L996.5,486.1 L997.0,486.1 L997.5,486.1 L998.0,486.2 L998.5,486.2 L999.0,486.4 L999.5,486.5 L1000.0,486.6 L1000.5,486.7 L1001.0,486.8 L1001.5,486.9 L1002.0,487.0 L1002.5,487.1 L1003.0,487.2 L1003.5,487.4 L1004.0,487.5 L1004.5,487.6 L1005.0,487.7 L1005.5,487.8 L1006.0,487.9 L1006.5,488.0 L1007.0,488.1 L1007.5,488.2 L1008.0,488.4 L1008.5,488.5 L1009.0,488.6 L1009.5,488.7 L1010.0,488.8 L1010.5,488.9 L1011.0,488.9 L1011.5,489.0 L1012.0,489.1 L1012.5,489.1 L1013.0,489.2 L1013.5,489.3 L1014.0,489.3 L1014.5,489.4 L1015.0,489.5 L1015.5,489.5 L1016.0,489.6 L1016.5,489.7 L1017.0,489.7 L1017.5,489.8 L1018.0,489.9 L1018.5,489.9 L1019.0,490.0 L1019.5,490.1 L1020.0,490.1 L1020.5,490.2 L1021.0,490.3 L1021.5,490.3 L1022.0,490.4 L1022.5,490.4 L1023.0,490.4 L1023.5,490.5 L1024.0,490.5 L1024.5,490.5 L1025.0,490.5 L1025.5,490.6 L1026.0,490.6 L1026.5,490.6 L1027.0,490.6 L1027.5,490.7 L1028.0,490.7 L1028.5,490.7 L1029.0,490.7 L1029.5,490.8 L1030.0,490.8 L1030.5,490.7 L1031.0,490.5 L1031.5,490.4 L1032.0,490.2 L1032.5,490.0 L1033.0,489.9 L1033.5,489.7 L1034.0,489.5 L1034.5,489.4 L1035.0,489.2 L1035.5,489.0 L1036.0,488.9 L1036.5,488.8 L1037.0,488.7 L1037.5,488.6 L1038.0,488.6 L1038.5,488.5 L1039.0,488.5 L1039.5,488.4 L1040.0,488.3 L1040.5,488.3 L1041.0,488.2 L1041.5,488.1 L1042.0,488.1 L1042.5,488.0 L1043.0,488.0 L1043.5,487.9 L1044.0,487.8 L1044.5,487.8 L1045.0,487.9 L1045.5,488.0 L1046.0,488.1 L1046.5,488.2 L1047.0,488.2 L1047.5,488.3 L1048.0,488.4 L1048.5,488.5 L1049.0,488.6 L1049.5,488.7 L1050.0,488.8 L1050.5,488.8 L1051.0,488.9 L1051.5,489.0 L1052.0,489.1 L1052.5,489.1 L1053.0,489.2 L1053.5,489.3 L1054.0,489.4 L1054.5,489.5 L1055.0,489.5 L1055.5,489.6 L1056.0,489.7 L1056.5,489.8 L1057.0,489.9 L1057.5,489.9 L1058.0,490.0 L1058.5,490.1 L1059.0,490.2 L1059.5,490.3 L1060.0,490.3 L1060.5,490.4 L1061.0,490.5 L1061.5,490.6 L1062.0,490.7 L1062.5,490.8 L1063.0,490.8 L1063.5,490.9 L1063.5,490.8 L1063.0,493.5 L1062.5,496.9 L1062.0,500.2 L1061.5,503.6 L1061.0,507.0 L1060.5,510.3 L1060.0,511.0 L1059.5,511.0 L1059.0,511.0 L1058.5,511.0 L1058.0,511.0 L1057.5,511.0 L1057.0,511.0 L1056.5,511.0 L1056.0,511.0 L1055.5,511.0 L1055.0,511.0 L1054.5,511.0 L1054.0,511.0 L1053.5,511.0 L1053.0,511.0 L1052.5,511.0 L1052.0,511.0 L1051.5,511.0 L1051.0,511.0 L1050.5,511.0 L1050.0,511.0 L1049.5,511.0 L1049.0,510.9 L1048.5,510.9 L1048.0,510.9 L1047.5,510.9 L1047.0,510.9 L1046.5,510.9 L1046.0,510.9 L1045.5,510.9 L1045.0,510.9 L1044.5,510.9 L1044.0,510.9 L1043.5,510.9 L1043.0,510.9 L1042.5,510.9 L1042.0,510.9 L1041.5,510.9 L1041.0,510.9 L1040.5,510.9 L1040.0,510.9 L1039.5,510.9 L1039.0,510.9 L1038.5,510.9 L1038.0,510.9 L1037.5,510.9 L1037.0,510.9 L1036.5,510.9 L1036.0,510.9 L1035.5,510.9 L1035.0,510.9 L1034.5,510.9 L1034.0,510.9 L1033.5,510.9 L1033.0,510.9 L1032.5,510.9 L1032.0,510.9 L1031.5,510.9 L1031.0,510.9 L1030.5,510.9 L1030.0,510.9 L1029.5,510.9 L1029.0,510.9 L1028.5,510.9 L1028.0,510.9 L1027.5,510.9 L1027.0,510.8 L1026.5,510.8 L1026.0,510.8 L1025.5,510.8 L1025.0,510.8 L1024.5,510.8 L1024.0,510.8 L1023.5,510.8 L1023.0,510.8 L1022.5,510.8 L1022.0,510.8 L1021.5,510.8 L1021.0,510.8 L1020.5,510.8 L1020.0,510.8 L1019.5,510.8 L1019.0,510.8 L1018.5,510.8 L1018.0,510.8 L1017.5,510.8 L1017.0,510.8 L1016.5,510.8 L1016.0,510.8 L1015.5,510.8 L1015.0,510.8 L1014.5,510.8 L1014.0,510.8 L1013.5,510.8 L1013.0,510.8 L1012.5,510.8 L1012.0,510.8 L1011.5,510.8 L1011.0,510.8 L1010.5,510.8 L1010.0,510.8 L1009.5,510.8 L1009.0,510.8 L1008.5,510.8 L1008.0,510.8 L1007.5,510.8 L1007.0,510.8 L1006.5,510.8 L1006.0,510.8 L1005.5,510.8 L1005.0,510.8 L1004.5,510.7 L1004.0,510.7 L1003.5,510.7 L1003.0,510.7 L1002.5,510.7 L1002.0,510.7 L1001.5,510.7 L1001.0,510.7 L1000.5,510.7 L1000.0,510.7 L999.5,510.7 L999.0,510.7 L998.5,510.7 L998.0,510.7 L997.5,510.7 L997.0,510.7 L996.5,510.7 L996.0,510.7 L995.5,510.7 L995.0,510.7 L994.5,510.7 L994.0,510.7 L993.5,510.7 L993.0,510.7 L992.5,510.7 L992.0,510.7 L991.5,510.7 L991.0,510.7 L990.5,510.7 L990.0,510.7 L989.5,510.7 L989.0,510.7 L988.5,510.7 L988.0,510.7 L987.5,510.7 L987.0,510.7 L986.5,510.7 L986.0,510.7 L985.5,510.7 L985.0,510.7 L984.5,510.7 L984.0,510.7 L983.5,510.7 L983.0,510.7 L982.5,510.6 L982.0,510.6 L981.5,510.6 L981.0,510.6 L980.5,510.6 L980.0,510.6 L979.5,510.6 L979.0,510.6 L978.5,510.6 L978.0,510.6 L977.5,510.6 L977.0,510.6 L976.5,510.6 L976.0,510.6 L975.5,510.6 L975.0,510.6 L974.5,510.6 L974.0,510.6 L973.5,510.6 L973.0,510.6 L972.5,510.6 L972.0,510.6 L971.5,510.6 L971.0,510.7 L970.5,510.9 L970.0,511.0 L969.5,511.1 L969.0,511.2 L968.5,511.3 L968.0,511.4 L967.5,511.5 L967.0,511.6 L966.5,511.7 L966.0,511.8 L965.5,511.9 L965.0,512.0 L964.5,512.2 L964.0,512.3 L963.5,512.5 L963.0,512.6 L962.5,512.8 L962.0,512.9 L961.5,513.1 L961.0,513.3 L960.5,513.4 L960.0,513.6 L959.5,513.7 L959.0,513.9 L958.5,514.0 L958.0,514.2 L957.5,514.4 L957.0,514.5 L956.5,514.7 L956.0,514.8 L955.5,515.0 L955.0,515.2 L954.5,515.3 L954.0,515.5Z M1101.5,482.9 L1102.0,481.2 L1102.5,479.4 L1103.0,477.5 L1103.5,475.6 L1104.0,473.6 L1104.5,471.6 L1105.0,469.7 L1105.5,467.7 L1106.0,465.7 L1106.5,463.8 L1107.0,462.2 L1107.5,461.2 L1108.0,460.2 L1108.5,459.2 L1109.0,458.1 L1109.5,457.1 L1110.0,456.1 L1110.5,455.1 L1111.0,454.3 L1111.5,453.7 L1112.0,453.1 L1112.5,452.5 L1113.0,451.9 L1113.5,451.3 L1114.0,450.7 L1114.5,450.1 L1115.0,449.5 L1115.5,449.0 L1116.0,448.4 L1116.5,447.8 L1117.0,447.2 L1117.5,446.6 L1118.0,446.0 L1118.5,445.4 L1119.0,444.9 L1119.5,444.3 L1120.0,443.8 L1120.5,443.2 L1121.0,442.7 L1121.5,442.1 L1122.0,441.6 L1122.5,441.0 L1123.0,440.5 L1123.5,439.9 L1124.0,439.4 L1124.5,438.8 L1125.0,438.3 L1125.5,437.6 L1126.0,436.9 L1126.5,436.3 L1127.0,435.6 L1127.5,434.9 L1128.0,434.3 L1128.5,433.6 L1129.0,433.0 L1129.5,432.3 L1130.0,431.6 L1130.5,431.0 L1131.0,430.3 L1131.5,429.7 L1132.0,429.0 L1132.5,428.4 L1133.0,427.8 L1133.5,427.1 L1134.0,426.5 L1134.5,425.9 L1135.0,425.2 L1135.5,424.6 L1136.0,424.0 L1136.5,423.4 L1137.0,422.7 L1137.5,422.1 L1138.0,421.5 L1138.5,420.8 L1139.0,420.2 L1139.5,419.2 L1140.0,418.3 L1140.5,417.3 L1141.0,416.4 L1141.5,416.2 L1142.0,416.1 L1142.5,416.1 L1143.0,416.0 L1143.5,416.0 L1144.0,415.9 L1144.5,415.9 L1145.0,415.8 L1145.5,415.8 L1146.0,415.7 L1146.5,415.7 L1147.0,415.6 L1147.5,415.6 L1148.0,415.5 L1148.5,415.5 L1149.0,415.4 L1149.5,415.4 L1150.0,415.3 L1150.5,415.3 L1151.0,415.2 L1151.5,415.1 L1152.0,414.9 L1152.5,414.7 L1153.0,414.5 L1153.5,414.3 L1154.0,414.1 L1154.5,413.9 L1155.0,413.8 L1155.5,413.6 L1156.0,413.4 L1156.5,413.2 L1157.0,413.0 L1157.5,412.8 L1158.0,412.6 L1158.5,412.5 L1159.0,412.3 L1159.5,412.1 L1160.0,411.8 L1160.5,411.6 L1161.0,411.3 L1161.5,411.1 L1162.0,410.8 L1162.5,410.6 L1163.0,410.3 L1163.5,410.1 L1164.0,409.8 L1164.5,409.6 L1165.0,409.3 L1165.5,409.2 L1166.0,409.1 L1166.5,409.1 L1167.0,409.0 L1167.5,408.9 L1168.0,408.9 L1168.5,408.8 L1169.0,408.8 L1169.5,408.7 L1170.0,408.6 L1170.5,408.6 L1171.0,408.5 L1171.5,409.7 L1172.0,412.6 L1172.5,415.5 L1173.0,418.4 L1173.5,420.1 L1174.0,420.0 L1174.5,419.8 L1175.0,419.6 L1175.5,419.5 L1176.0,419.3 L1176.5,419.1 L1177.0,419.0 L1177.5,418.8 L1178.0,418.7 L1178.5,418.5 L1179.0,418.3 L1179.5,418.2 L1180.0,418.0 L1180.5,417.9 L1181.0,417.8 L1181.5,417.6 L1182.0,417.5 L1182.5,417.4 L1183.0,417.3 L1183.5,417.1 L1184.0,417.0 L1184.5,416.9 L1185.0,416.8 L1185.5,416.7 L1186.0,416.5 L1186.5,416.4 L1187.0,416.3 L1187.5,416.2 L1188.0,416.1 L1188.5,416.0 L1189.0,415.9 L1189.5,415.8 L1190.0,415.7 L1190.5,415.7 L1191.0,415.6 L1191.5,415.5 L1192.0,415.4 L1192.5,415.3 L1193.0,415.2 L1193.5,415.1 L1194.0,415.1 L1194.5,415.0 L1195.0,414.9 L1195.5,414.9 L1196.0,414.9 L1196.5,414.8 L1197.0,414.8 L1197.5,414.8 L1198.0,414.7 L1198.5,414.7 L1199.0,414.7 L1199.5,414.6 L1200.0,414.7 L1200.5,415.0 L1201.0,415.2 L1201.5,415.4 L1202.0,415.7 L1202.5,415.9 L1203.0,416.3 L1203.5,417.0 L1204.0,417.8 L1204.5,418.5 L1205.0,419.3 L1205.5,420.0 L1206.0,420.8 L1206.5,421.5 L1207.0,422.3 L1207.5,422.8 L1208.0,423.1 L1208.5,423.5 L1209.0,423.8 L1209.5,424.1 L1210.0,424.5 L1210.5,424.8 L1211.0,425.2 L1211.5,425.5 L1212.0,425.8 L1212.5,426.2 L1213.0,426.5 L1213.5,426.8 L1214.0,427.2 L1214.5,427.5 L1215.0,427.8 L1215.5,428.2 L1216.0,428.5 L1216.5,428.8 L1217.0,429.2 L1217.5,429.5 L1218.0,429.8 L1218.5,430.2 L1219.0,430.5 L1219.5,430.5 L1220.0,430.6 L1220.5,430.6 L1221.0,430.6 L1221.5,430.6 L1222.0,430.6 L1222.5,430.7 L1223.0,430.7 L1223.5,430.7 L1224.0,430.8 L1224.5,430.8 L1225.0,430.8 L1225.5,430.8 L1226.0,430.9 L1226.5,430.9 L1227.0,430.9 L1227.5,430.9 L1228.0,430.9 L1228.5,431.0 L1229.0,431.0 L1229.5,431.0 L1230.0,431.1 L1230.5,431.1 L1231.0,431.1 L1231.5,431.1 L1232.0,431.1 L1232.5,431.2 L1233.0,431.2 L1233.5,431.3 L1234.0,431.4 L1234.5,431.6 L1235.0,431.7 L1235.5,431.8 L1236.0,431.9 L1236.5,432.0 L1237.0,432.1 L1237.5,432.3 L1238.0,432.4 L1238.5,432.5 L1239.0,432.6 L1239.5,432.7 L1240.0,432.7 L1240.5,432.6 L1241.0,432.6 L1241.5,432.6 L1242.0,432.6 L1242.5,432.6 L1243.0,432.5 L1243.5,432.5 L1244.0,432.5 L1244.5,432.5 L1245.0,432.4 L1245.5,432.4 L1246.0,432.4 L1246.5,432.4 L1247.0,432.3 L1247.5,432.3 L1248.0,432.3 L1248.5,432.3 L1249.0,432.3 L1249.5,432.2 L1250.0,432.2 L1250.5,432.0 L1251.0,431.5 L1251.5,431.1 L1252.0,430.7 L1252.5,430.3 L1253.0,429.9 L1253.5,429.5 L1254.0,429.1 L1254.5,428.6 L1255.0,428.2 L1255.5,427.8 L1256.0,427.4 L1256.5,427.0 L1257.0,426.9 L1257.5,426.9 L1258.0,426.9 L1258.5,426.9 L1259.0,426.9 L1259.5,426.9 L1260.0,426.9 L1260.5,426.9 L1261.0,426.9 L1261.5,426.9 L1262.0,426.9 L1262.5,426.9 L1263.0,426.9 L1263.5,426.9 L1264.0,426.9 L1264.5,426.9 L1265.0,426.9 L1265.5,426.9 L1266.0,426.9 L1266.5,426.9 L1267.0,426.9 L1267.5,426.9 L1268.0,426.9 L1268.5,426.9 L1269.0,426.9 L1269.5,426.9 L1270.0,426.9 L1270.5,426.9 L1271.0,426.9 L1271.5,426.9 L1272.0,427.2 L1272.5,427.7 L1273.0,428.2 L1273.5,428.7 L1274.0,429.2 L1274.5,429.7 L1275.0,430.2 L1275.5,430.7 L1276.0,431.2 L1276.5,431.7 L1277.0,432.2 L1277.5,432.7 L1278.0,433.2 L1278.0,432.6 L1277.5,433.2 L1277.0,433.7 L1276.5,434.3 L1276.0,434.8 L1275.5,434.8 L1275.0,434.8 L1274.5,434.8 L1274.0,434.8 L1273.5,434.8 L1273.0,434.8 L1272.5,434.8 L1272.0,434.8 L1271.5,434.8 L1271.0,434.8 L1270.5,434.8 L1270.0,434.8 L1269.5,434.8 L1269.0,434.8 L1268.5,434.8 L1268.0,434.8 L1267.5,434.8 L1267.0,434.8 L1266.5,434.8 L1266.0,434.8 L1265.5,434.8 L1265.0,434.8 L1264.5,434.8 L1264.0,434.8 L1263.5,434.8 L1263.0,434.8 L1262.5,434.8 L1262.0,434.8 L1261.5,434.8 L1261.0,434.8 L1260.5,434.8 L1260.0,434.8 L1259.5,434.8 L1259.0,434.8 L1258.5,434.8 L1258.0,434.8 L1257.5,434.8 L1257.0,434.8 L1256.5,434.8 L1256.0,434.8 L1255.5,434.8 L1255.0,434.8 L1254.5,434.8 L1254.0,434.8 L1253.5,434.8 L1253.0,434.8 L1252.5,434.8 L1252.0,434.8 L1251.5,434.8 L1251.0,434.8 L1250.5,434.8 L1250.0,434.8 L1249.5,434.8 L1249.0,434.8 L1248.5,434.8 L1248.0,434.8 L1247.5,434.8 L1247.0,434.8 L1246.5,434.8 L1246.0,434.8 L1245.5,434.8 L1245.0,434.8 L1244.5,434.8 L1244.0,434.8 L1243.5,434.8 L1243.0,434.8 L1242.5,434.8 L1242.0,434.8 L1241.5,434.8 L1241.0,434.8 L1240.5,434.8 L1240.0,434.8 L1239.5,434.8 L1239.0,434.8 L1238.5,434.8 L1238.0,434.8 L1237.5,434.8 L1237.0,434.8 L1236.5,434.8 L1236.0,434.8 L1235.5,434.8 L1235.0,434.8 L1234.5,434.8 L1234.0,434.8 L1233.5,434.8 L1233.0,434.8 L1232.5,434.8 L1232.0,434.8 L1231.5,434.8 L1231.0,434.8 L1230.5,434.8 L1230.0,434.8 L1229.5,434.8 L1229.0,434.8 L1228.5,434.8 L1228.0,434.8 L1227.5,434.8 L1227.0,434.8 L1226.5,434.8 L1226.0,434.8 L1225.5,434.8 L1225.0,434.8 L1224.5,434.8 L1224.0,434.8 L1223.5,434.8 L1223.0,434.8 L1222.5,434.8 L1222.0,434.8 L1221.5,434.8 L1221.0,434.8 L1220.5,434.8 L1220.0,434.8 L1219.5,434.8 L1219.0,434.8 L1218.5,434.8 L1218.0,434.8 L1217.5,434.8 L1217.0,434.8 L1216.5,434.8 L1216.0,434.8 L1215.5,434.8 L1215.0,434.8 L1214.5,434.8 L1214.0,434.8 L1213.5,434.8 L1213.0,434.8 L1212.5,434.8 L1212.0,434.8 L1211.5,434.8 L1211.0,434.8 L1210.5,434.8 L1210.0,434.8 L1209.5,434.8 L1209.0,434.8 L1208.5,434.8 L1208.0,434.8 L1207.5,434.8 L1207.0,434.8 L1206.5,434.8 L1206.0,434.8 L1205.5,434.8 L1205.0,434.8 L1204.5,434.8 L1204.0,434.8 L1203.5,434.8 L1203.0,434.8 L1202.5,434.8 L1202.0,434.8 L1201.5,434.8 L1201.0,434.8 L1200.5,434.8 L1200.0,434.8 L1199.5,434.8 L1199.0,434.8 L1198.5,434.8 L1198.0,434.8 L1197.5,434.8 L1197.0,434.8 L1196.5,434.8 L1196.0,434.8 L1195.5,434.8 L1195.0,434.8 L1194.5,434.8 L1194.0,434.8 L1193.5,434.8 L1193.0,434.8 L1192.5,434.8 L1192.0,434.8 L1191.5,434.8 L1191.0,434.8 L1190.5,434.8 L1190.0,434.8 L1189.5,434.8 L1189.0,434.8 L1188.5,434.8 L1188.0,434.8 L1187.5,434.8 L1187.0,434.8 L1186.5,434.8 L1186.0,434.8 L1185.5,434.8 L1185.0,434.8 L1184.5,434.8 L1184.0,434.8 L1183.5,434.8 L1183.0,434.8 L1182.5,434.8 L1182.0,434.8 L1181.5,434.8 L1181.0,434.8 L1180.5,434.8 L1180.0,434.8 L1179.5,434.8 L1179.0,434.8 L1178.5,434.8 L1178.0,434.8 L1177.5,434.8 L1177.0,434.9 L1176.5,435.0 L1176.0,435.1 L1175.5,435.2 L1175.0,435.3 L1174.5,435.4 L1174.0,435.5 L1173.5,435.6 L1173.0,435.7 L1172.5,435.8 L1172.0,435.9 L1171.5,436.0 L1171.0,436.1 L1170.5,436.2 L1170.0,436.3 L1169.5,436.4 L1169.0,436.5 L1168.5,436.7 L1168.0,436.8 L1167.5,436.9 L1167.0,437.0 L1166.5,437.1 L1166.0,437.3 L1165.5,437.4 L1165.0,437.5 L1164.5,437.6 L1164.0,437.7 L1163.5,437.9 L1163.0,438.0 L1162.5,438.1 L1162.0,438.2 L1161.5,438.3 L1161.0,438.5 L1160.5,438.6 L1160.0,438.8 L1159.5,438.9 L1159.0,439.1 L1158.5,439.2 L1158.0,439.4 L1157.5,439.5 L1157.0,439.6 L1156.5,439.8 L1156.0,439.9 L1155.5,440.1 L1155.0,440.2 L1154.5,440.4 L1154.0,440.5 L1153.5,440.7 L1153.0,440.8 L1152.5,441.0 L1152.0,441.1 L1151.5,441.3 L1151.0,441.4 L1150.5,441.5 L1150.0,441.6 L1149.5,441.7 L1149.0,441.7 L1148.5,441.8 L1148.0,441.9 L1147.5,442.0 L1147.0,442.1 L1146.5,442.1 L1146.0,442.2 L1145.5,442.3 L1145.0,442.4 L1144.5,442.5 L1144.0,442.5 L1143.5,442.6 L1143.0,442.7 L1142.5,442.8 L1142.0,442.9 L1141.5,443.0 L1141.0,443.0 L1140.5,443.1 L1140.0,443.2 L1139.5,443.3 L1139.0,443.4 L1138.5,443.4 L1138.0,443.5 L1137.5,443.6 L1137.0,443.7 L1136.5,443.8 L1136.0,443.8 L1135.5,443.9 L1135.0,444.0 L1134.5,444.2 L1134.0,444.4 L1133.5,444.7 L1133.0,444.9 L1132.5,445.1 L1132.0,445.3 L1131.5,445.6 L1131.0,445.8 L1130.5,446.0 L1130.0,446.2 L1129.5,446.5 L1129.0,446.7 L1128.5,446.9 L1128.0,447.1 L1127.5,447.3 L1127.0,447.6 L1126.5,447.8 L1126.0,448.0 L1125.5,448.2 L1125.0,448.5 L1124.5,449.6 L1124.0,451.0 L1123.5,452.4 L1123.0,453.8 L1122.5,455.2 L1122.0,456.5 L1121.5,457.9 L1121.0,459.3 L1120.5,460.1 L1120.0,460.6 L1119.5,461.2 L1119.0,461.8 L1118.5,462.4 L1118.0,462.9 L1117.5,463.5 L1117.0,464.1 L1116.5,464.6 L1116.0,465.2 L1115.5,465.8 L1115.0,466.4 L1114.5,466.7 L1114.0,466.9 L1113.5,467.1 L1113.0,467.3 L1112.5,467.5 L1112.0,467.6 L1111.5,467.8 L1111.0,468.0 L1110.5,468.2 L1110.0,468.4 L1109.5,468.6 L1109.0,468.8 L1108.5,469.0 L1108.0,469.1 L1107.5,469.3 L1107.0,469.5 L1106.5,470.4 L1106.0,471.6 L1105.5,472.9 L1105.0,474.2 L1104.5,475.4 L1104.0,476.7 L1103.5,478.0 L1103.0,479.3 L1102.5,480.5 L1102.0,481.8 L1101.5,483.1Z" fill="rgba(67,160,71,0.12)"/>
<path d="M727.0,476.8 L727.5,476.8 L728.0,476.9 L728.5,477.0 L729.0,477.1 L729.5,477.2 L730.0,477.3 L730.5,477.3 L731.0,477.4 L731.5,477.5 L732.0,478.1 L732.5,478.7 L733.0,479.2 L733.5,479.8 L734.0,480.4 L734.5,481.0 L735.0,481.6 L735.5,482.2 L736.0,482.8 L736.5,483.3 L737.0,483.9 L737.5,484.5 L738.0,484.6 L738.5,484.7 L739.0,484.7 L739.5,484.8 L740.0,484.9 L740.5,485.0 L741.0,485.1 L741.5,485.1 L742.0,485.2 L742.5,485.3 L743.0,485.4 L743.5,485.5 L744.0,485.5 L744.5,485.6 L745.0,485.7 L745.5,485.8 L746.0,485.9 L746.5,486.0 L747.0,486.1 L747.5,486.2 L748.0,486.3 L748.5,486.5 L749.0,486.6 L749.5,486.7 L750.0,486.8 L750.5,487.0 L751.0,487.1 L751.5,487.2 L752.0,487.3 L752.5,487.5 L753.0,487.6 L753.5,487.7 L754.0,487.7 L754.5,487.5 L755.0,487.3 L755.5,487.1 L756.0,486.9 L756.5,486.7 L757.0,486.5 L757.5,486.3 L758.0,486.1 L758.5,485.8 L759.0,485.6 L759.5,485.4 L760.0,485.2 L760.5,485.0 L761.0,484.8 L761.5,484.6 L762.0,484.4 L762.5,484.2 L763.0,484.0 L763.5,483.8 L764.0,483.6 L764.5,483.3 L765.0,483.1 L765.5,483.3 L766.0,483.6 L766.5,483.9 L767.0,484.2 L767.5,484.5 L768.0,484.7 L768.5,485.0 L769.0,485.3 L769.5,485.6 L770.0,485.9 L770.5,486.2 L771.0,486.4 L771.5,486.7 L772.0,487.0 L772.5,487.4 L773.0,487.8 L773.5,488.2 L774.0,488.6 L774.5,489.0 L775.0,489.3 L775.5,489.7 L776.0,490.1 L776.5,490.5 L777.0,490.9 L777.5,491.3 L778.0,491.7 L778.5,492.1 L779.0,492.5 L779.5,492.9 L780.0,493.2 L780.5,493.1 L781.0,492.7 L781.5,492.3 L782.0,491.9 L782.5,491.4 L783.0,491.0 L783.5,490.6 L784.0,490.1 L784.5,489.7 L785.0,489.3 L785.5,488.9 L786.0,488.4 L786.5,488.0 L787.0,487.6 L787.5,487.1 L788.0,486.7 L788.5,486.3 L789.0,485.9 L789.5,485.4 L790.0,485.0 L790.5,484.8 L791.0,484.6 L791.5,484.4 L792.0,484.2 L792.5,484.0 L793.0,483.8 L793.5,483.6 L794.0,483.4 L794.5,483.2 L795.0,483.0 L795.5,482.8 L796.0,482.5 L796.5,482.3 L797.0,482.1 L797.5,482.2 L798.0,482.3 L798.5,482.5 L799.0,482.6 L799.5,482.7 L800.0,482.9 L800.5,483.0 L801.0,483.3 L801.5,484.2 L802.0,485.1 L802.5,486.0 L803.0,487.0 L803.5,487.9 L804.0,488.8 L804.5,489.7 L805.0,490.6 L805.5,491.6 L806.0,492.5 L806.5,493.4 L807.0,493.6 L807.5,493.8 L808.0,494.0 L808.5,494.1 L809.0,494.3 L809.5,494.5 L810.0,494.7 L810.5,494.9 L811.0,495.1 L811.5,495.3 L812.0,495.5 L812.5,495.6 L813.0,495.8 L813.5,496.0 L814.0,496.2 L814.5,497.4 L815.0,498.7 L815.5,499.9 L816.0,501.1 L816.5,502.4 L817.0,503.6 L817.5,504.9 L818.0,506.1 L818.5,507.3 L819.0,508.6 L819.5,509.8 L820.0,510.4 L820.5,510.5 L821.0,510.6 L821.5,510.7 L822.0,510.8 L822.5,510.9 L823.0,511.0 L823.5,511.1 L824.0,511.2 L824.5,511.4 L825.0,511.5 L825.5,511.6 L826.0,511.7 L826.5,511.8 L827.0,511.9 L827.5,512.0 L828.0,512.1 L828.5,512.2 L829.0,512.3 L829.5,512.5 L830.0,512.6 L830.5,512.7 L831.0,512.8 L831.5,512.9 L832.0,513.0 L832.5,513.1 L833.0,513.3 L833.5,513.7 L834.0,514.1 L834.5,514.5 L835.0,514.9 L835.5,515.3 L836.0,515.7 L836.5,516.1 L837.0,516.5 L837.5,517.0 L838.0,517.4 L838.5,517.8 L839.0,518.2 L839.5,518.6 L840.0,519.0 L840.5,519.2 L841.0,519.5 L841.5,519.8 L842.0,520.0 L842.5,520.2 L843.0,520.5 L843.5,520.8 L844.0,521.0 L844.5,521.2 L845.0,521.5 L845.5,521.8 L846.0,522.1 L846.5,522.4 L847.0,522.7 L847.5,523.0 L848.0,523.3 L848.5,523.6 L849.0,523.9 L849.5,524.3 L850.0,524.6 L850.5,524.9 L851.0,525.0 L851.5,524.3 L852.0,523.7 L852.5,523.0 L853.0,522.4 L853.5,522.0 L854.0,521.9 L854.5,521.8 L855.0,521.7 L855.5,521.6 L856.0,521.5 L856.5,521.4 L857.0,521.3 L857.5,521.2 L858.0,521.1 L858.5,521.0 L859.0,520.9 L859.5,520.8 L860.0,520.8 L860.5,520.7 L861.0,520.7 L861.5,520.7 L862.0,520.7 L862.5,520.6 L863.0,520.6 L863.5,520.6 L864.0,520.5 L864.5,520.5 L865.0,520.5 L865.5,520.5 L866.0,520.4 L866.5,520.4 L867.0,520.4 L867.5,520.4 L868.0,520.3 L868.5,520.3 L869.0,520.3 L869.5,520.2 L870.0,520.2 L870.5,520.2 L871.0,520.1 L871.5,520.1 L872.0,520.0 L872.5,519.9 L873.0,519.9 L873.5,519.8 L874.0,519.7 L874.5,519.7 L875.0,519.6 L875.5,519.6 L876.0,519.7 L876.5,519.7 L877.0,519.7 L877.5,519.8 L878.0,519.8 L878.5,519.8 L879.0,519.9 L879.5,519.9 L880.0,519.9 L880.5,520.0 L881.0,520.0 L881.5,520.0 L882.0,520.1 L882.5,520.1 L883.0,520.1 L883.5,520.2 L884.0,520.2 L884.5,519.0 L885.0,517.0 L885.5,515.0 L886.0,513.0 L886.5,511.5 L887.0,509.9 L887.0,513.8 L886.5,509.7 L886.0,505.6 L885.5,501.6 L885.0,499.5 L884.5,497.8 L884.0,496.1 L883.5,494.4 L883.0,492.7 L882.5,491.1 L882.0,489.4 L881.5,488.4 L881.0,487.8 L880.5,487.2 L880.0,486.6 L879.5,486.0 L879.0,485.4 L878.5,485.1 L878.0,485.1 L877.5,485.1 L877.0,485.1 L876.5,485.1 L876.0,485.1 L875.5,485.1 L875.0,485.1 L874.5,485.1 L874.0,485.1 L873.5,485.1 L873.0,485.1 L872.5,485.1 L872.0,485.1 L871.5,485.1 L871.0,485.1 L870.5,485.1 L870.0,485.1 L869.5,485.1 L869.0,485.1 L868.5,485.1 L868.0,485.1 L867.5,485.1 L867.0,485.1 L866.5,485.0 L866.0,484.8 L865.5,484.5 L865.0,484.2 L864.5,483.9 L864.0,483.6 L863.5,483.3 L863.0,483.0 L862.5,482.8 L862.0,482.5 L861.5,482.2 L861.0,481.9 L860.5,481.6 L860.0,481.3 L859.5,481.0 L859.0,480.8 L858.5,480.5 L858.0,480.3 L857.5,480.2 L857.0,480.2 L856.5,480.2 L856.0,480.1 L855.5,480.1 L855.0,480.0 L854.5,480.0 L854.0,480.0 L853.5,479.9 L853.0,479.9 L852.5,479.8 L852.0,479.8 L851.5,479.7 L851.0,479.7 L850.5,479.3 L850.0,478.8 L849.5,478.3 L849.0,477.7 L848.5,477.2 L848.0,476.7 L847.5,476.2 L847.0,476.0 L846.5,475.9 L846.0,475.9 L845.5,475.9 L845.0,475.8 L844.5,475.8 L844.0,475.7 L843.5,475.7 L843.0,475.6 L842.5,475.6 L842.0,475.6 L841.5,475.5 L841.0,475.5 L840.5,475.4 L840.0,475.4 L839.5,475.4 L839.0,475.4 L838.5,475.4 L838.0,475.4 L837.5,475.4 L837.0,475.4 L836.5,475.4 L836.0,475.4 L835.5,475.4 L835.0,475.4 L834.5,475.4 L834.0,475.4 L833.5,475.4 L833.0,475.4 L832.5,475.4 L832.0,475.4 L831.5,475.4 L831.0,475.4 L830.5,475.4 L830.0,475.4 L829.5,475.4 L829.0,475.4 L828.5,475.5 L828.0,475.5 L827.5,475.5 L827.0,475.5 L826.5,475.5 L826.0,475.5 L825.5,475.5 L825.0,475.5 L824.5,475.5 L824.0,475.5 L823.5,475.5 L823.0,475.5 L822.5,475.5 L822.0,475.5 L821.5,475.5 L821.0,475.5 L820.5,475.5 L820.0,475.5 L819.5,475.5 L819.0,475.5 L818.5,475.5 L818.0,475.5 L817.5,474.3 L817.0,472.3 L816.5,470.4 L816.0,468.4 L815.5,466.4 L815.0,464.4 L814.5,462.5 L814.0,460.5 L813.5,460.5 L813.0,460.5 L812.5,460.5 L812.0,460.5 L811.5,460.5 L811.0,460.5 L810.5,460.5 L810.0,460.5 L809.5,460.5 L809.0,460.5 L808.5,460.5 L808.0,460.5 L807.5,460.5 L807.0,460.5 L806.5,460.5 L806.0,460.5 L805.5,460.5 L805.0,460.5 L804.5,460.5 L804.0,460.5 L803.5,460.5 L803.0,460.5 L802.5,460.5 L802.0,460.5 L801.5,460.5 L801.0,460.5 L800.5,460.5 L800.0,460.5 L799.5,460.5 L799.0,460.5 L798.5,460.5 L798.0,460.5 L797.5,460.5 L797.0,460.6 L796.5,461.1 L796.0,461.6 L795.5,462.1 L795.0,462.6 L794.5,463.1 L794.0,463.6 L793.5,464.1 L793.0,464.6 L792.5,465.1 L792.0,465.6 L791.5,466.1 L791.0,466.1 L790.5,466.1 L790.0,466.1 L789.5,466.1 L789.0,466.1 L788.5,466.1 L788.0,466.1 L787.5,466.1 L787.0,466.2 L786.5,466.2 L786.0,466.2 L785.5,466.2 L785.0,466.2 L784.5,466.2 L784.0,466.2 L783.5,466.2 L783.0,466.2 L782.5,466.2 L782.0,466.2 L781.5,466.2 L781.0,466.2 L780.5,466.2 L780.0,466.2 L779.5,466.2 L779.0,466.2 L778.5,466.3 L778.0,466.3 L777.5,466.3 L777.0,466.3 L776.5,466.3 L776.0,466.3 L775.5,466.3 L775.0,466.3 L774.5,466.3 L774.0,466.3 L773.5,466.3 L773.0,466.3 L772.5,466.3 L772.0,466.3 L771.5,466.3 L771.0,466.3 L770.5,466.3 L770.0,466.4 L769.5,466.4 L769.0,466.4 L768.5,466.4 L768.0,466.4 L767.5,466.4 L767.0,466.4 L766.5,466.4 L766.0,466.4 L765.5,466.4 L765.0,466.4 L764.5,466.4 L764.0,466.4 L763.5,466.4 L763.0,466.4 L762.5,466.4 L762.0,466.4 L761.5,466.5 L761.0,466.5 L760.5,466.5 L760.0,466.5 L759.5,466.5 L759.0,466.5 L758.5,466.5 L758.0,466.5 L757.5,466.5 L757.0,466.5 L756.5,466.5 L756.0,466.5 L755.5,466.5 L755.0,466.5 L754.5,466.5 L754.0,466.5 L753.5,466.5 L753.0,466.5 L752.5,466.6 L752.0,466.6 L751.5,466.6 L751.0,466.6 L750.5,466.6 L750.0,466.6 L749.5,466.6 L749.0,466.6 L748.5,466.6 L748.0,466.6 L747.5,466.6 L747.0,466.6 L746.5,466.6 L746.0,466.6 L745.5,466.6 L745.0,466.6 L744.5,466.6 L744.0,466.7 L743.5,466.7 L743.0,466.7 L742.5,466.7 L742.0,466.7 L741.5,466.7 L741.0,466.7 L740.5,466.7 L740.0,466.7 L739.5,466.7 L739.0,466.7 L738.5,466.7 L738.0,466.7 L737.5,466.7 L737.0,466.7 L736.5,466.7 L736.0,466.7 L735.5,466.8 L735.0,466.8 L734.5,466.8 L734.0,466.8 L733.5,466.8 L733.0,466.8 L732.5,466.8 L732.0,466.8 L731.5,466.8 L731.0,467.2 L730.5,467.6 L730.0,467.9 L729.5,468.3 L729.0,469.6 L728.5,471.1 L728.0,472.6 L727.5,474.1 L727.0,475.7Z M937.0,515.6 L937.5,515.7 L938.0,515.7 L938.5,515.7 L939.0,515.7 L939.5,515.7 L940.0,515.7 L940.5,515.7 L941.0,515.7 L941.5,515.7 L942.0,515.6 L942.5,515.6 L943.0,515.6 L943.5,515.6 L944.0,515.6 L944.5,515.6 L945.0,515.6 L945.5,515.6 L946.0,515.6 L946.5,515.6 L947.0,515.6 L947.5,515.6 L948.0,515.6 L948.5,515.6 L949.0,515.6 L949.5,515.6 L950.0,515.5 L950.5,515.5 L951.0,515.5 L951.5,515.5 L952.0,515.5 L952.5,515.5 L953.0,515.5 L953.5,515.5 L954.0,515.3 L954.0,515.5 L953.5,515.5 L953.0,515.5 L952.5,515.5 L952.0,515.5 L951.5,515.5 L951.0,515.5 L950.5,515.5 L950.0,515.5 L949.5,515.5 L949.0,515.5 L948.5,515.5 L948.0,515.5 L947.5,515.5 L947.0,515.5 L946.5,515.5 L946.0,515.5 L945.5,515.5 L945.0,515.5 L944.5,515.5 L944.0,515.5 L943.5,515.5 L943.0,515.5 L942.5,515.5 L942.0,515.5 L941.5,515.5 L941.0,515.5 L940.5,515.5 L940.0,515.5 L939.5,515.5 L939.0,515.5 L938.5,515.5 L938.0,515.5 L937.5,515.5 L937.0,515.5Z M1063.5,490.9 L1064.0,491.0 L1064.5,491.1 L1065.0,491.2 L1065.5,491.3 L1066.0,491.4 L1066.5,491.5 L1067.0,491.5 L1067.5,491.6 L1068.0,491.7 L1068.5,491.8 L1069.0,492.0 L1069.5,492.2 L1070.0,492.4 L1070.5,492.6 L1071.0,492.7 L1071.5,492.9 L1072.0,493.1 L1072.5,493.3 L1073.0,493.5 L1073.5,493.7 L1074.0,493.9 L1074.5,494.1 L1075.0,494.2 L1075.5,494.4 L1076.0,494.6 L1076.5,494.8 L1077.0,494.9 L1077.5,495.0 L1078.0,495.1 L1078.5,495.1 L1079.0,495.2 L1079.5,495.3 L1080.0,495.4 L1080.5,495.5 L1081.0,495.6 L1081.5,495.6 L1082.0,495.7 L1082.5,495.8 L1083.0,495.9 L1083.5,496.0 L1084.0,496.1 L1084.5,496.1 L1085.0,496.2 L1085.5,496.3 L1086.0,496.4 L1086.5,496.5 L1087.0,496.5 L1087.5,496.5 L1088.0,496.6 L1088.5,496.6 L1089.0,496.6 L1089.5,496.6 L1090.0,496.7 L1090.5,496.7 L1091.0,496.7 L1091.5,496.7 L1092.0,496.8 L1092.5,496.8 L1093.0,496.8 L1093.5,496.8 L1094.0,496.9 L1094.5,496.9 L1095.0,496.6 L1095.5,496.1 L1096.0,495.6 L1096.5,495.1 L1097.0,494.5 L1097.5,494.0 L1098.0,493.5 L1098.5,493.0 L1099.0,491.7 L1099.5,490.0 L1100.0,488.2 L1100.5,486.5 L1101.0,484.7 L1101.5,482.9 L1101.5,483.1 L1101.0,484.4 L1100.5,485.6 L1100.0,486.9 L1099.5,488.2 L1099.0,489.4 L1098.5,490.2 L1098.0,490.2 L1097.5,490.2 L1097.0,490.2 L1096.5,490.2 L1096.0,490.2 L1095.5,490.3 L1095.0,490.3 L1094.5,490.3 L1094.0,490.3 L1093.5,490.3 L1093.0,490.3 L1092.5,490.3 L1092.0,490.3 L1091.5,490.3 L1091.0,490.3 L1090.5,490.3 L1090.0,490.3 L1089.5,490.4 L1089.0,490.4 L1088.5,490.4 L1088.0,490.4 L1087.5,490.4 L1087.0,490.4 L1086.5,490.4 L1086.0,490.4 L1085.5,490.4 L1085.0,490.4 L1084.5,490.4 L1084.0,490.4 L1083.5,490.5 L1083.0,490.5 L1082.5,490.5 L1082.0,490.5 L1081.5,490.5 L1081.0,490.5 L1080.5,490.5 L1080.0,490.5 L1079.5,490.5 L1079.0,490.5 L1078.5,490.5 L1078.0,490.6 L1077.5,490.6 L1077.0,490.6 L1076.5,490.6 L1076.0,490.6 L1075.5,490.6 L1075.0,490.6 L1074.5,490.6 L1074.0,490.6 L1073.5,490.6 L1073.0,490.6 L1072.5,490.6 L1072.0,490.7 L1071.5,490.7 L1071.0,490.7 L1070.5,490.7 L1070.0,490.7 L1069.5,490.7 L1069.0,490.7 L1068.5,490.7 L1068.0,490.7 L1067.5,490.7 L1067.0,490.7 L1066.5,490.7 L1066.0,490.8 L1065.5,490.8 L1065.0,490.8 L1064.5,490.8 L1064.0,490.8 L1063.5,490.8Z M1278.0,433.2 L1278.5,433.6 L1279.0,433.9 L1279.5,434.2 L1280.0,434.6 L1280.5,434.9 L1281.0,435.2 L1281.5,435.5 L1282.0,435.2 L1282.5,435.0 L1283.0,434.8 L1283.5,434.5 L1284.0,434.3 L1284.5,434.0 L1285.0,434.0 L1285.5,434.0 L1286.0,434.0 L1286.5,434.0 L1287.0,434.0 L1287.5,434.0 L1288.0,434.0 L1288.5,434.0 L1289.0,434.0 L1289.5,434.0 L1290.0,434.0 L1290.5,434.0 L1291.0,434.0 L1291.5,434.0 L1292.0,434.0 L1292.5,434.0 L1293.0,434.0 L1293.5,434.1 L1294.0,434.2 L1294.5,434.4 L1295.0,434.5 L1295.5,434.6 L1296.0,434.8 L1296.5,434.9 L1297.0,435.1 L1297.5,435.2 L1298.0,435.3 L1298.5,435.5 L1299.0,438.3 L1299.5,441.8 L1300.0,445.3 L1300.5,448.9 L1301.0,452.4 L1301.5,455.9 L1302.0,458.2 L1302.5,458.5 L1303.0,458.9 L1303.5,459.3 L1304.0,459.7 L1304.5,460.1 L1305.0,460.5 L1305.5,460.8 L1306.0,461.2 L1306.5,463.5 L1307.0,466.1 L1307.5,468.8 L1308.0,471.5 L1308.5,474.2 L1309.0,476.9 L1309.5,478.5 L1310.0,478.6 L1310.5,478.6 L1311.0,478.6 L1311.5,478.7 L1312.0,478.7 L1312.5,478.8 L1313.0,478.8 L1313.5,478.8 L1314.0,478.9 L1314.5,478.9 L1315.0,479.0 L1315.5,479.0 L1316.0,479.0 L1316.5,479.1 L1317.0,479.3 L1317.5,479.7 L1318.0,480.1 L1318.5,480.6 L1319.0,481.0 L1319.5,481.4 L1320.0,481.9 L1320.5,482.3 L1321.0,482.7 L1321.5,483.3 L1322.0,483.9 L1322.5,484.5 L1323.0,485.1 L1323.5,485.8 L1324.0,486.4 L1324.5,487.0 L1325.0,487.6 L1325.5,488.2 L1326.0,488.4 L1326.5,488.7 L1327.0,488.9 L1327.5,489.2 L1328.0,489.4 L1328.5,489.7 L1329.0,489.9 L1329.5,490.2 L1330.0,490.4 L1330.5,490.7 L1331.0,490.9 L1331.5,491.2 L1332.0,491.6 L1332.5,492.6 L1333.0,493.6 L1333.5,494.6 L1334.0,495.6 L1334.5,496.6 L1335.0,497.6 L1335.5,498.7 L1336.0,499.7 L1336.5,500.7 L1337.0,501.7 L1337.5,502.7 L1338.0,503.7 L1338.5,504.3 L1339.0,504.4 L1339.5,504.4 L1340.0,504.5 L1340.5,504.5 L1341.0,504.6 L1341.5,504.6 L1342.0,504.6 L1342.5,504.7 L1343.0,504.7 L1343.5,504.8 L1344.0,504.8 L1344.5,504.9 L1345.0,504.9 L1345.5,505.0 L1346.0,505.0 L1346.5,505.1 L1347.0,505.1 L1347.5,505.2 L1348.0,505.2 L1348.5,505.2 L1349.0,505.3 L1349.5,505.3 L1350.0,505.4 L1350.5,505.5 L1351.0,505.5 L1351.5,505.6 L1352.0,505.6 L1352.5,505.7 L1353.0,505.7 L1353.5,505.8 L1354.0,505.9 L1354.5,505.9 L1355.0,506.0 L1355.5,506.0 L1356.0,506.1 L1356.5,506.1 L1357.0,506.2 L1357.5,506.3 L1358.0,506.3 L1358.5,506.4 L1359.0,507.1 L1359.5,508.2 L1360.0,509.4 L1360.5,510.5 L1361.0,511.6 L1361.5,512.8 L1362.0,513.9 L1362.5,514.9 L1363.0,515.9 L1363.5,517.0 L1364.0,518.0 L1364.5,519.0 L1365.0,520.0 L1365.5,521.0 L1366.0,522.1 L1366.5,523.1 L1367.0,524.1 L1367.5,524.8 L1368.0,525.1 L1368.5,525.5 L1369.0,525.8 L1369.5,526.1 L1370.0,526.4 L1370.5,526.7 L1371.0,527.4 L1371.5,528.1 L1372.0,528.8 L1372.5,529.5 L1373.0,530.2 L1373.5,531.0 L1374.0,531.7 L1374.5,532.4 L1375.0,533.1 L1375.5,533.8 L1376.0,534.4 L1376.5,534.5 L1377.0,534.5 L1377.5,534.5 L1378.0,534.6 L1378.5,534.6 L1379.0,534.7 L1379.5,534.7 L1380.0,534.8 L1380.5,534.8 L1381.0,534.9 L1381.5,534.9 L1382.0,535.0 L1382.5,535.1 L1383.0,535.6 L1383.5,536.2 L1384.0,536.7 L1384.5,537.3 L1385.0,537.8 L1385.5,538.3 L1386.0,538.9 L1386.5,539.4 L1387.0,539.9 L1387.5,540.5 L1387.8,540.8 L1387.8,507.5 L1387.5,506.9 L1387.0,505.9 L1386.5,504.9 L1386.0,503.9 L1385.5,502.9 L1385.0,501.9 L1384.5,500.9 L1384.0,499.9 L1383.5,498.9 L1383.0,497.9 L1382.5,496.9 L1382.0,495.0 L1381.5,492.8 L1381.0,490.6 L1380.5,488.4 L1380.0,486.3 L1379.5,484.1 L1379.0,482.5 L1378.5,481.8 L1378.0,481.1 L1377.5,480.4 L1377.0,479.8 L1376.5,479.1 L1376.0,478.4 L1375.5,477.7 L1375.0,477.0 L1374.5,476.3 L1374.0,475.6 L1373.5,474.9 L1373.0,474.2 L1372.5,473.5 L1372.0,472.8 L1371.5,472.1 L1371.0,471.5 L1370.5,470.9 L1370.0,470.7 L1369.5,470.6 L1369.0,470.4 L1368.5,470.3 L1368.0,470.1 L1367.5,470.0 L1367.0,469.2 L1366.5,468.1 L1366.0,467.0 L1365.5,465.8 L1365.0,464.7 L1364.5,463.6 L1364.0,462.5 L1363.5,461.3 L1363.0,460.2 L1362.5,458.9 L1362.0,457.6 L1361.5,456.4 L1361.0,455.1 L1360.5,453.8 L1360.0,452.5 L1359.5,452.0 L1359.0,452.0 L1358.5,452.0 L1358.0,452.0 L1357.5,452.0 L1357.0,452.0 L1356.5,452.0 L1356.0,452.0 L1355.5,452.0 L1355.0,452.0 L1354.5,452.0 L1354.0,452.0 L1353.5,452.0 L1353.0,452.0 L1352.5,452.0 L1352.0,452.0 L1351.5,452.0 L1351.0,452.0 L1350.5,452.0 L1350.0,452.0 L1349.5,452.0 L1349.0,452.0 L1348.5,452.0 L1348.0,452.0 L1347.5,452.0 L1347.0,452.0 L1346.5,452.0 L1346.0,452.0 L1345.5,452.0 L1345.0,452.0 L1344.5,452.0 L1344.0,452.0 L1343.5,452.0 L1343.0,452.0 L1342.5,452.0 L1342.0,452.0 L1341.5,452.0 L1341.0,452.0 L1340.5,452.0 L1340.0,452.0 L1339.5,452.0 L1339.0,452.0 L1338.5,452.0 L1338.0,452.0 L1337.5,452.0 L1337.0,452.0 L1336.5,452.0 L1336.0,452.0 L1335.5,452.0 L1335.0,452.0 L1334.5,452.0 L1334.0,452.0 L1333.5,451.9 L1333.0,451.7 L1332.5,451.6 L1332.0,451.5 L1331.5,451.4 L1331.0,451.2 L1330.5,451.1 L1330.0,451.0 L1329.5,450.9 L1329.0,450.9 L1328.5,450.9 L1328.0,450.9 L1327.5,450.9 L1327.0,450.8 L1326.5,450.8 L1326.0,450.8 L1325.5,450.8 L1325.0,450.8 L1324.5,450.8 L1324.0,450.8 L1323.5,450.8 L1323.0,450.8 L1322.5,450.8 L1322.0,450.7 L1321.5,450.7 L1321.0,450.7 L1320.5,450.7 L1320.0,450.7 L1319.5,450.7 L1319.0,450.7 L1318.5,450.7 L1318.0,450.7 L1317.5,450.7 L1317.0,450.7 L1316.5,450.6 L1316.0,450.6 L1315.5,450.6 L1315.0,450.6 L1314.5,450.6 L1314.0,450.6 L1313.5,450.6 L1313.0,450.6 L1312.5,450.6 L1312.0,450.6 L1311.5,450.5 L1311.0,450.5 L1310.5,450.5 L1310.0,450.5 L1309.5,450.5 L1309.0,449.5 L1308.5,448.0 L1308.0,446.4 L1307.5,444.8 L1307.0,443.2 L1306.5,441.6 L1306.0,440.0 L1305.5,438.4 L1305.0,436.8 L1304.5,435.2 L1304.0,433.6 L1303.5,433.0 L1303.0,432.7 L1302.5,432.4 L1302.0,432.1 L1301.5,431.7 L1301.0,431.4 L1300.5,430.6 L1300.0,429.1 L1299.5,427.6 L1299.0,426.0 L1298.5,424.5 L1298.0,423.0 L1297.5,421.5 L1297.0,421.5 L1296.5,421.6 L1296.0,421.6 L1295.5,421.6 L1295.0,421.7 L1294.5,421.7 L1294.0,421.7 L1293.5,421.7 L1293.0,421.8 L1292.5,421.8 L1292.0,421.8 L1291.5,421.9 L1291.0,421.9 L1290.5,422.2 L1290.0,422.4 L1289.5,422.7 L1289.0,423.0 L1288.5,423.3 L1288.0,423.5 L1287.5,423.8 L1287.0,424.1 L1286.5,424.4 L1286.0,424.6 L1285.5,424.9 L1285.0,425.2 L1284.5,425.5 L1284.0,426.1 L1283.5,426.6 L1283.0,427.1 L1282.5,427.7 L1282.0,428.2 L1281.5,428.8 L1281.0,429.3 L1280.5,429.9 L1280.0,430.4 L1279.5,431.0 L1279.0,431.5 L1278.5,432.1 L1278.0,432.6Z" fill="rgba(244,67,54,0.105)"/>
<path d="M318.0,705.0 L319.3,699.5 L333.9,695.3 L342.3,683.2 L348.4,680.8 L358.0,679.1 L367.7,667.5 L377.4,664.6 L384.6,661.5 L389.5,665.1 L395.5,657.8 L400.4,657.4 L408.8,649.4 L412.5,633.7 L419.7,630.0 L425.8,621.6 L431.8,617.9 L449.9,615.5 L453.6,608.3 L458.4,611.9 L462.0,619.6 L481.4,620.4 L486.2,617.9 L491.0,611.4 L508.0,607.5 L511.6,604.6 L514.0,592.6 L518.9,576.8 L526.1,574.4 L533.4,541.8 L539.4,538.1 L545.5,535.5 L550.0,528.9 L558.1,522.8 L568.1,517.8 L572.2,523.8 L584.3,525.8 L590.3,518.8 L598.4,516.8 L610.5,515.8 L620.0,510.0 L628.6,491.6 L634.7,484.5 L644.8,480.5 L648.8,455.3 L658.9,450.2 L664.9,444.2 L671.0,443.8 L675.0,451.3 L687.1,452.3 L691.1,448.2 L695.2,448.2 L701.2,457.3 L711.3,470.4 L717.3,472.4 L725.4,476.5 L731.5,477.5 L737.5,484.5 L746.3,485.9 L753.8,487.8 L765.1,483.1 L772.0,487.0 L780.2,493.4 L790.0,485.0 L797.1,482.1 L800.9,483.1 L806.5,493.4 L814.0,496.2 L819.7,510.3 L832.9,513.2 L840.0,519.0 L844.8,521.4 L850.9,525.1 L853.3,522.0 L859.4,520.8 L870.3,520.2 L875.1,519.6 L884.2,520.2 L886.0,513.0 L887.2,509.3 L894.5,508.7 L900.5,507.5 L907.8,506.9 L912.6,509.3 L921.4,512.8 L928.8,514.0 L937.7,515.7 L953.9,515.5 L960.0,505.0 L965.7,496.5 L973.1,485.4 L986.4,485.4 L998.3,486.2 L1010.0,488.8 L1022.1,490.4 L1030.2,490.8 L1036.2,488.8 L1044.3,487.8 L1050.3,488.8 L1060.4,490.4 L1068.5,491.8 L1076.5,494.8 L1086.6,496.5 L1094.7,496.9 L1098.7,492.8 L1102.7,478.7 L1106.8,462.6 L1110.8,454.5 L1118.0,446.0 L1124.9,438.4 L1131.0,430.3 L1139.0,420.2 L1141.1,416.2 L1151.1,415.2 L1159.2,412.2 L1165.2,409.2 L1171.3,408.5 L1173.3,420.2 L1180.0,418.0 L1187.4,416.2 L1194.3,415.0 L1199.7,414.6 L1202.9,416.1 L1207.2,422.6 L1213.6,426.9 L1219.0,430.5 L1233.0,431.2 L1239.4,432.7 L1250.2,432.2 L1256.6,426.9 L1271.7,426.9 L1278.1,433.3 L1281.4,435.5 L1284.6,434.0 L1293.2,434.0 L1298.6,435.5 L1301.8,458.0 L1306.1,461.3 L1309.3,478.5 L1316.8,479.1 L1321.1,482.8 L1325.4,488.1 L1331.9,491.4 L1338.3,504.3 L1349.1,505.3 L1358.7,506.4 L1362.0,513.9 L1367.3,524.7 L1370.6,526.8 L1375.9,534.4 L1382.4,535.0 L1387.8,540.8" stroke="rgba(67,160,71,0.42)" stroke-width="1.5" fill="none"/>
<path d="M318.0,760.0 L466.0,760.0 L466.9,699.5 L471.7,686.9 L477.8,674.8 L486.2,671.2 L492.3,657.8 L499.5,649.9 L510.4,649.9 L518.9,596.2 L527.3,595.0 L535.8,558.7 L553.9,555.8 L560.1,555.1 L634.7,554.7 L646.5,545.4 L650.5,519.5 L671.0,519.0 L673.5,514.0 L687.1,512.0 L691.3,495.5 L697.2,492.0 L721.4,486.5 L725.4,480.5 L729.4,468.4 L731.5,466.8 L791.5,466.1 L797.1,460.5 L814.0,460.5 L817.8,475.5 L840.0,475.4 L847.3,476.0 L850.9,479.7 L858.2,480.3 L866.6,485.1 L878.7,485.1 L881.8,488.7 L885.4,500.8 L886.6,510.5 L887.2,515.4 L953.9,515.5 L965.0,512.0 L971.7,510.6 L1060.4,511.0 L1063.4,490.8 L1098.7,490.2 L1106.8,469.6 L1114.8,466.6 L1120.9,459.6 L1124.9,448.5 L1135.0,444.0 L1151.1,441.4 L1161.2,438.4 L1171.3,436.0 L1177.3,434.8 L1276.0,434.8 L1284.6,425.4 L1291.0,421.9 L1297.5,421.5 L1300.7,431.2 L1303.9,433.3 L1309.3,450.5 L1329.7,450.9 L1334.0,452.0 L1359.8,452.0 L1363.0,460.2 L1367.3,469.9 L1370.6,470.9 L1379.2,482.8 L1382.4,496.7 L1387.8,507.5" stroke="rgba(244,67,54,0.42)" stroke-width="1.5" fill="none"/>
<path d="M204.5,606.0V720.0 M208.5,632.9V648.4 M212.5,620.3V641.7 M233.5,652.0V670.5 M241.5,650.6V666.8 M245.5,638.0V669.8 M249.5,610.7V647.8 M257.5,644.7V658.7 M265.5,648.4V667.6 M270.5,634.3V652.0 M278.5,626.2V642.4 M286.5,633.6V652.8 M290.5,633.6V658.0 M294.5,612.2V640.2 M302.5,625.5V646.9 M306.5,626.2V632.9 M315.5,598.2V649.5 M319.5,590.8V611.5 M327.5,579.5V610.5 M331.5,573.9V588.9 M343.5,574.8V603.0 M360.5,603.0V667.9 M364.5,600.2V619.9 M372.5,635.1V654.7 M376.5,605.8V649.1 M380.5,582.9V615.7 M384.5,575.7V594.1 M388.5,556.9V589.8 M396.5,567.3V584.4 M405.5,568.2V598.3 M413.5,540.4V595.5 M421.5,534.7V553.2 M425.5,518.4V544.7 M429.5,489.2V528.4 M433.5,450.7V510.9 M437.5,491.1V503.3 M442.5,478.9V495.8 M458.5,499.6V516.5 M462.5,497.7V516.5 M470.5,501.5V519.1 M482.5,493.0V553.2 M487.5,475.1V501.7 M499.5,483.6V529.7 M507.5,483.6V505.2 M511.5,465.7V492.1 M523.5,461.0V494.9 M528.5,440.3V478.3 M532.5,438.0V455.0 M540.5,444.1V456.2 M548.5,384.0V450.4 M585.5,457.4V482.6 M589.5,459.4V476.8 M593.5,452.6V460.6 M609.5,503.9V519.1 M618.5,491.3V536.1 M630.5,498.5V511.3 M650.5,513.9V539.7 M654.5,507.9V522.0 M659.5,467.3V513.8 M663.5,468.7V491.3 M667.5,463.3V478.4 M671.5,440.7V474.7 M679.5,455.8V475.2 M720.5,539.7V563.3 M724.5,545.0V565.5 M732.5,546.1V567.6 M736.5,536.5V555.4 M740.5,501.0V550.4 M745.5,489.1V513.0 M749.5,497.7V582.7 M757.5,484.2V525.6 M765.5,495.4V513.8 M769.5,475.8V513.4 M773.5,467.3V489.9 M798.5,493.0V504.0 M802.5,485.2V502.1 M822.5,507.8V522.8 M826.5,495.5V514.7 M835.5,478.6V538.8 M839.5,477.7V493.2 M855.5,495.5V507.0 M859.5,486.5V500.5 M863.5,453.5V499.8 M867.5,441.8V464.7 M884.5,455.5V470.8 M896.5,457.9V526.5 M921.5,499.0V515.2 M925.5,495.8V505.5 M929.5,482.9V509.5 M945.5,498.2V512.7 M966.5,512.3V526.1 M970.5,504.3V518.7 M974.5,496.4V505.5 M978.5,479.7V497.0 M986.5,479.7V497.9 M990.5,483.1V489.2 M994.5,475.0V489.8 M998.5,453.6V480.7 M1003.5,415.5V456.7 M1007.5,400.5V425.9 M1011.5,401.4V414.6 M1015.5,395.8V422.1 M1023.5,371.3V418.4 M1027.5,360.0V386.4 M1043.5,383.6V403.3 M1048.5,374.2V393.9 M1060.5,385.4V399.5 M1064.5,349.7V415.5 M1080.5,416.5V438.5 M1084.5,415.9V434.3 M1093.5,424.9V435.8 M1117.5,445.4V479.4 M1121.5,436.5V450.6 M1129.5,443.2V455.8 M1138.5,431.4V455.5 M1146.5,436.2V456.4 M1150.5,421.0V440.8 M1154.5,424.0V438.0 M1166.5,439.5V453.5 M1170.5,417.7V446.5 M1175.5,404.8V422.2 M1183.5,401.1V421.0 M1211.5,498.7V524.2 M1228.5,525.5V557.3 M1232.5,508.9V562.4 M1240.5,515.3V539.5 M1244.5,515.3V528.6 M1281.5,581.6V617.1 M1285.5,585.4V599.1" stroke="#26a69a" stroke-width="1" fill="none"/>
<path d="M216.5,630.9V658.0 M220.5,632.1V652.8 M224.5,642.1V663.9 M229.5,644.0V676.4 M237.5,646.2V669.8 M253.5,631.7V659.5 M261.5,643.2V665.7 M274.5,629.2V649.8 M282.5,635.1V646.1 M298.5,617.3V644.0 M310.5,601.1V652.8 M323.5,596.4V617.1 M335.5,580.4V598.3 M339.5,584.3V604.9 M347.5,578.6V594.5 M351.5,582.9V607.5 M356.5,606.3V634.0 M368.5,610.0V640.8 M392.5,572.1V584.4 M401.5,572.9V594.5 M409.5,574.4V584.6 M417.5,536.9V544.4 M446.5,485.5V503.3 M450.5,492.1V517.5 M454.5,502.4V523.1 M466.5,504.4V519.1 M474.5,502.4V518.4 M478.5,511.2V517.2 M491.5,472.3V488.6 M495.5,478.0V515.6 M503.5,479.3V505.2 M515.5,469.9V486.4 M519.5,475.1V490.2 M536.5,442.6V449.1 M544.5,446.6V450.4 M552.5,391.7V401.1 M556.5,399.9V416.3 M560.5,410.1V444.1 M564.5,422.7V442.9 M568.5,395.7V441.7 M573.5,416.3V490.1 M577.5,453.8V486.5 M581.5,462.3V486.5 M597.5,453.8V516.7 M601.5,498.6V526.4 M605.5,508.1V522.8 M614.5,496.1V511.9 M622.5,492.5V509.4 M626.5,498.1V511.1 M634.5,485.8V506.5 M638.5,501.4V524.8 M642.5,502.0V528.9 M646.5,510.6V536.5 M675.5,451.5V472.2 M683.5,461.6V470.8 M687.5,466.6V481.6 M691.5,464.4V479.5 M695.5,472.6V488.1 M699.5,469.8V491.8 M704.5,480.5V530.0 M708.5,511.0V525.1 M712.5,512.5V549.0 M716.5,537.9V571.9 M728.5,534.3V562.3 M753.5,474.0V519.0 M761.5,494.9V520.0 M777.5,473.0V487.1 M781.5,482.1V495.5 M785.5,488.0V506.8 M790.5,486.1V504.9 M794.5,482.4V513.4 M806.5,479.5V493.1 M810.5,491.9V504.0 M814.5,501.2V511.0 M818.5,510.4V528.4 M831.5,492.7V536.0 M843.5,483.3V498.4 M847.5,494.4V516.2 M851.5,499.4V524.7 M871.5,443.4V460.3 M876.5,454.0V472.4 M880.5,454.7V470.8 M888.5,458.2V468.4 M892.5,465.2V495.8 M900.5,461.9V471.6 M904.5,465.2V482.1 M908.5,469.2V488.9 M912.5,480.5V501.5 M917.5,478.9V510.3 M933.5,474.0V489.4 M937.5,483.2V505.6 M941.5,488.5V511.0 M949.5,499.8V511.9 M953.5,501.2V510.0 M957.5,496.5V520.0 M962.5,499.9V524.8 M982.5,481.0V491.8 M1019.5,398.6V411.0 M1031.5,362.1V376.0 M1035.5,368.5V381.7 M1039.5,368.5V398.6 M1052.5,381.7V398.6 M1056.5,393.0V401.4 M1068.5,357.2V399.7 M1072.5,389.2V476.7 M1076.5,424.0V444.7 M1089.5,418.1V438.0 M1097.5,421.0V430.7 M1101.5,425.5V446.2 M1105.5,426.2V442.5 M1109.5,429.2V455.8 M1113.5,446.9V467.6 M1125.5,439.5V454.3 M1134.5,448.7V458.7 M1142.5,425.5V447.6 M1158.5,434.3V441.1 M1162.5,432.1V444.0 M1179.5,410.0V415.2 M1187.5,410.0V439.7 M1191.5,438.0V453.5 M1195.5,440.6V460.4 M1199.5,457.6V517.8 M1203.5,496.1V521.6 M1207.5,500.0V559.9 M1215.5,508.9V531.8 M1220.5,505.0V545.9 M1224.5,519.1V558.6 M1236.5,514.8V540.8 M1248.5,506.3V529.5 M1252.5,525.8V534.3 M1256.5,529.3V551.0 M1261.5,529.3V569.3 M1265.5,558.6V602.0 M1269.5,561.2V590.9 M1273.5,580.3V622.4 M1277.5,604.5V617.1" stroke="#ef5350" stroke-width="1" fill="none"/>
<path d="M203,638.3h3v81.7h-3Z M207,635.5h3v2.8h-3Z M211,630.9h3v4.6h-3Z M232,661.2h3v1.0h-3Z M240,664.4h3v1.0h-3Z M244,647.2h3v17.2h-3Z M248,632.3h3v14.9h-3Z M256,645.3h3v5.8h-3Z M264,649.0h3v9.9h-3Z M269,641.5h3v7.5h-3Z M277,639.1h3v2.7h-3Z M285,638.4h3v7.1h-3Z M289,633.8h3v4.6h-3Z M293,624.2h3v9.6h-3Z M301,629.3h3v4.3h-3Z M305,628.1h3v1.2h-3Z M314,604.5h3v42.5h-3Z M318,598.3h3v6.2h-3Z M326,582.6h3v22.8h-3Z M330,582.6h3v1.0h-3Z M342,585.2h3v13.7h-3Z M359,616.5h3v10.7h-3Z M363,610.6h3v5.9h-3Z M371,635.7h3v4.4h-3Z M375,615.1h3v20.6h-3Z M379,594.1h3v21.1h-3Z M383,585.5h3v8.6h-3Z M387,572.7h3v12.8h-3Z M395,580.0h3v3.8h-3Z M404,575.0h3v7.4h-3Z M412,541.0h3v43.1h-3Z M420,535.3h3v7.4h-3Z M424,527.8h3v7.4h-3Z M428,497.7h3v30.2h-3Z M432,493.5h3v4.2h-3Z M436,493.2h3v1.0h-3Z M441,491.7h3v1.4h-3Z M457,510.0h3v1.0h-3Z M461,505.0h3v5.0h-3Z M469,507.6h3v10.9h-3Z M481,501.1h3v15.4h-3Z M486,485.7h3v15.5h-3Z M498,487.9h3v20.0h-3Z M506,484.2h3v12.6h-3Z M510,475.5h3v8.7h-3Z M522,477.7h3v4.7h-3Z M527,443.8h3v33.9h-3Z M531,443.2h3v1.0h-3Z M539,447.2h3v1.4h-3Z M547,392.3h3v57.5h-3Z M584,465.6h3v16.4h-3Z M588,460.0h3v5.6h-3Z M592,460.0h3v1.0h-3Z M608,504.5h3v7.2h-3Z M617,496.6h3v11.6h-3Z M629,500.6h3v3.8h-3Z M649,514.5h3v14.2h-3Z M653,509.0h3v5.5h-3Z M658,483.5h3v25.6h-3Z M662,474.8h3v8.7h-3Z M666,470.0h3v4.7h-3Z M670,455.4h3v14.7h-3Z M678,469.1h3v2.5h-3Z M719,552.5h3v3.5h-3Z M723,550.0h3v2.5h-3Z M731,551.6h3v7.1h-3Z M735,542.2h3v9.4h-3Z M739,513.0h3v29.2h-3Z M744,504.5h3v8.4h-3Z M748,500.4h3v4.1h-3Z M756,495.5h3v17.3h-3Z M764,495.4h3v17.8h-3Z M768,479.7h3v15.7h-3Z M772,476.7h3v2.9h-3Z M797,493.6h3v5.0h-3Z M801,490.1h3v3.5h-3Z M821,514.1h3v2.7h-3Z M825,501.6h3v12.5h-3Z M834,492.6h3v33.3h-3Z M838,488.5h3v4.1h-3Z M854,499.9h3v6.5h-3Z M858,486.5h3v13.4h-3Z M862,464.1h3v22.5h-3Z M866,448.0h3v16.0h-3Z M883,458.8h3v2.6h-3Z M895,469.4h3v13.7h-3Z M920,500.8h3v1.0h-3Z M924,499.1h3v1.7h-3Z M928,483.5h3v15.6h-3Z M944,505.2h3v5.1h-3Z M965,512.3h3v7.5h-3Z M969,504.9h3v7.4h-3Z M973,496.4h3v8.5h-3Z M977,484.9h3v11.5h-3Z M985,488.6h3v2.6h-3Z M989,485.0h3v3.6h-3Z M993,477.4h3v7.7h-3Z M997,456.1h3v21.3h-3Z M1002,422.9h3v33.2h-3Z M1006,409.1h3v13.8h-3Z M1010,407.7h3v1.4h-3Z M1014,401.4h3v6.4h-3Z M1022,377.7h3v32.7h-3Z M1026,362.7h3v15.1h-3Z M1042,392.3h3v1.0h-3Z M1047,390.4h3v2.0h-3Z M1059,396.5h3v2.4h-3Z M1063,366.3h3v30.2h-3Z M1079,424.6h3v6.4h-3Z M1083,423.8h3v1.0h-3Z M1092,425.5h3v5.2h-3Z M1116,447.6h3v12.6h-3Z M1120,444.6h3v3.1h-3Z M1128,449.3h3v1.4h-3Z M1137,437.4h3v17.5h-3Z M1145,440.2h3v6.8h-3Z M1149,435.8h3v4.5h-3Z M1153,435.4h3v1.0h-3Z M1165,441.5h3v1.9h-3Z M1169,422.2h3v19.3h-3Z M1174,414.4h3v7.7h-3Z M1182,413.7h3v1.0h-3Z M1210,514.5h3v1.0h-3Z M1227,532.1h3v15.8h-3Z M1231,515.4h3v16.8h-3Z M1239,528.0h3v7.3h-3Z M1243,520.7h3v7.3h-3Z M1280,599.1h3v17.4h-3Z M1284,586.8h3v12.3h-3Z" fill="#26a69a"/>
<path d="M215,630.9h3v10.5h-3Z M219,641.4h3v1.3h-3Z M223,642.7h3v10.3h-3Z M228,653.0h3v8.5h-3Z M236,661.2h3v3.8h-3Z M252,632.3h3v18.7h-3Z M260,645.3h3v13.7h-3Z M273,641.5h3v1.0h-3Z M281,639.1h3v6.4h-3Z M297,624.2h3v9.4h-3Z M309,628.1h3v18.9h-3Z M322,598.3h3v7.1h-3Z M334,582.6h3v2.3h-3Z M338,584.9h3v14.1h-3Z M346,585.2h3v2.4h-3Z M350,587.7h3v19.2h-3Z M355,606.9h3v20.3h-3Z M367,610.6h3v29.6h-3Z M391,572.7h3v11.1h-3Z M400,580.0h3v2.4h-3Z M408,575.0h3v9.0h-3Z M416,541.0h3v1.7h-3Z M445,491.7h3v1.0h-3Z M449,492.7h3v11.8h-3Z M453,504.5h3v5.6h-3Z M465,505.0h3v13.5h-3Z M473,507.6h3v4.2h-3Z M477,511.8h3v4.8h-3Z M490,485.7h3v2.3h-3Z M494,488.0h3v19.9h-3Z M502,487.9h3v8.9h-3Z M514,475.5h3v4.0h-3Z M518,479.5h3v2.9h-3Z M535,443.2h3v5.3h-3Z M543,447.2h3v2.7h-3Z M551,392.3h3v8.2h-3Z M555,400.5h3v10.2h-3Z M559,410.7h3v12.7h-3Z M563,423.3h3v2.3h-3Z M567,425.6h3v3.4h-3Z M572,429.0h3v37.2h-3Z M576,466.3h3v3.8h-3Z M580,470.1h3v11.9h-3Z M596,460.0h3v40.2h-3Z M600,500.2h3v8.5h-3Z M604,508.7h3v3.0h-3Z M613,504.5h3v3.7h-3Z M621,496.6h3v2.8h-3Z M625,499.4h3v4.9h-3Z M633,500.6h3v3.3h-3Z M637,503.9h3v8.6h-3Z M641,512.5h3v8.5h-3Z M645,521.1h3v7.6h-3Z M674,455.4h3v16.2h-3Z M682,469.1h3v1.0h-3Z M686,469.3h3v2.3h-3Z M690,471.6h3v1.6h-3Z M694,473.2h3v2.6h-3Z M698,475.8h3v16.0h-3Z M703,491.8h3v23.2h-3Z M707,515.0h3v1.0h-3Z M711,515.2h3v23.3h-3Z M715,538.5h3v17.5h-3Z M727,550.0h3v8.7h-3Z M752,500.4h3v12.3h-3Z M760,495.5h3v17.7h-3Z M776,476.7h3v6.0h-3Z M780,482.7h3v8.0h-3Z M784,490.7h3v3.4h-3Z M789,494.1h3v1.7h-3Z M793,495.8h3v2.8h-3Z M805,490.1h3v2.4h-3Z M809,492.5h3v9.3h-3Z M813,501.8h3v8.6h-3Z M817,510.4h3v6.4h-3Z M830,501.6h3v24.3h-3Z M842,488.5h3v6.6h-3Z M846,495.0h3v4.9h-3Z M850,500.0h3v6.5h-3Z M870,448.0h3v6.6h-3Z M875,454.6h3v6.6h-3Z M879,461.2h3v1.0h-3Z M887,458.8h3v7.0h-3Z M891,465.8h3v17.3h-3Z M899,469.4h3v1.0h-3Z M903,469.5h3v9.3h-3Z M907,478.8h3v9.6h-3Z M911,488.3h3v8.4h-3Z M916,496.7h3v4.3h-3Z M932,483.5h3v1.0h-3Z M936,483.8h3v21.8h-3Z M940,505.6h3v4.8h-3Z M948,505.2h3v1.0h-3Z M952,505.8h3v1.4h-3Z M956,507.2h3v4.5h-3Z M961,511.7h3v8.1h-3Z M981,484.9h3v6.4h-3Z M1018,401.4h3v9.1h-3Z M1030,362.7h3v10.2h-3Z M1034,372.8h3v4.3h-3Z M1038,377.2h3v15.7h-3Z M1051,390.4h3v6.3h-3Z M1055,396.6h3v2.3h-3Z M1067,366.3h3v32.8h-3Z M1071,399.1h3v30.2h-3Z M1075,429.3h3v1.7h-3Z M1088,423.8h3v6.9h-3Z M1096,425.5h3v4.6h-3Z M1100,430.1h3v1.0h-3Z M1104,431.1h3v6.1h-3Z M1108,437.2h3v12.4h-3Z M1112,449.6h3v10.6h-3Z M1124,444.6h3v6.2h-3Z M1133,449.3h3v5.6h-3Z M1141,437.4h3v9.6h-3Z M1157,435.4h3v3.4h-3Z M1161,438.8h3v4.6h-3Z M1178,414.4h3v1.0h-3Z M1186,413.7h3v25.4h-3Z M1190,439.1h3v2.0h-3Z M1194,441.2h3v17.1h-3Z M1198,458.2h3v50.0h-3Z M1202,508.2h3v3.2h-3Z M1206,511.4h3v3.6h-3Z M1214,514.5h3v6.9h-3Z M1219,521.3h3v9.5h-3Z M1223,530.8h3v17.1h-3Z M1235,515.4h3v20.0h-3Z M1247,520.7h3v8.2h-3Z M1251,528.9h3v4.5h-3Z M1255,533.3h3v17.6h-3Z M1260,551.0h3v17.7h-3Z M1264,568.7h3v2.7h-3Z M1268,571.4h3v19.0h-3Z M1272,590.3h3v20.6h-3Z M1276,611.0h3v5.5h-3Z" fill="#ef5350"/>
<path d="M264.0,720.0 L265.0,699.2 L270.6,691.7 L275.3,689.4 L280.0,685.1 L283.8,684.2 L290.0,675.0 L301.0,675.0 L306.0,665.1 L310.9,640.9 L315.7,633.7 L323.0,632.5 L325.4,626.4 L333.9,622.8 L348.4,620.4 L358.0,619.6 L383.4,619.6 L389.5,611.4 L407.6,611.4 L417.3,592.6 L425.8,590.6 L433.0,555.1 L460.8,555.1 L466.9,549.0 L475.3,549.0 L483.8,528.5 L486.2,523.6 L505.6,522.9 L510.0,522.8 L514.2,520.1 L519.4,502.4 L530.5,494.3 L543.8,493.5 L547.5,467.0 L584.5,467.0 L587.5,456.0 L602.0,455.5 L605.0,454.0 L608.5,454.3 L614.5,455.9 L618.5,458.3 L646.8,458.3 L654.8,462.3 L659.9,464.8 L671.0,464.8 L675.0,474.4 L679.0,486.5 L683.1,494.2 L687.1,495.0 L711.3,495.0 L713.3,504.7 L714.3,510.7 L723.4,511.1 L741.5,511.1 L746.3,511.5 L750.0,515.8 L753.8,516.0 L772.6,516.0 L780.2,518.8 L791.5,521.6 L800.9,523.5 L849.7,523.8 L851.5,519.6 L856.0,510.0 L863.0,499.6 L866.0,492.4 L868.5,490.0 L924.4,489.9 L940.6,484.0 L970.2,484.0 L976.1,489.9 L983.5,492.1 L996.8,492.1 L999.8,481.7 L1002.7,468.4 L1006.4,461.0 L1013.1,459.8 L1018.1,458.5 L1022.1,446.5 L1025.0,440.0 L1060.4,439.6 L1063.4,435.2 L1070.6,432.7 L1076.5,426.3 L1082.6,421.3 L1090.6,418.6 L1098.4,415.5 L1104.8,411.8 L1112.8,411.8 L1116.9,413.2 L1165.2,413.2 L1171.3,416.2 L1175.3,430.3 L1179.4,440.0 L1183.4,439.4 L1199.7,439.8 L1202.9,462.3 L1207.2,477.8 L1230.8,479.1 L1256.6,479.1 L1260.9,489.2 L1265.2,497.8 L1268.5,498.9 L1273.8,507.1 L1285.7,507.1" stroke="#9c27b0" stroke-width="1.6" fill="none" stroke-linejoin="round"/>
<path d="M204.0,720.0 L204.2,689.8 L208.5,687.0 L212.3,684.6 L215.7,684.2 L220.8,675.7 L231.1,675.7 L235.8,671.0 L240.5,647.5 L248.0,642.8 L251.8,642.4 L265.0,642.4 L267.8,639.0 L283.8,639.0 L288.0,645.0 L296.0,645.0 L300.0,636.0 L306.0,633.7 L316.9,625.2 L324.2,624.0 L326.6,615.5 L331.4,613.1 L341.1,612.4 L347.2,610.7 L350.8,599.8 L355.6,603.4 L358.0,617.9 L377.4,621.6 L382.2,619.2 L389.5,611.4 L396.7,605.1 L407.6,604.6 L412.5,597.4 L414.9,563.5 L419.7,558.7 L425.8,556.3 L430.5,526.0 L434.6,522.0 L445.1,521.2 L450.5,503.0 L460.0,490.0 L465.5,487.0 L470.8,501.2 L477.1,502.1 L480.0,507.0 L484.0,516.3 L488.6,514.0 L495.8,512.5 L505.3,512.0 L514.2,509.0 L518.6,501.0 L524.6,492.0 L530.5,483.2 L536.4,472.1 L543.8,468.4 L547.5,441.8 L554.8,441.1 L558.1,440.2 L562.1,428.0 L565.1,421.0 L570.2,421.0 L575.2,436.1 L580.2,437.1 L587.3,440.2 L593.3,441.2 L598.4,453.3 L604.4,468.4 L610.5,487.5 L614.5,489.6 L619.6,492.6 L630.6,493.6 L632.7,512.7 L652.8,514.8 L659.9,511.7 L664.9,504.7 L671.0,496.6 L679.0,495.0 L683.1,494.6 L689.1,489.6 L693.1,479.5 L698.2,470.4 L700.2,472.4 L705.2,487.5 L709.3,491.6 L713.3,496.6 L715.3,514.8 L721.4,516.8 L731.5,518.8 L737.5,523.8 L742.5,529.2 L749.1,534.8 L752.0,527.3 L768.9,527.3 L774.5,523.1 L781.1,522.6 L784.9,497.2 L789.6,495.3 L799.0,491.5 L805.6,490.6 L810.3,495.3 L815.0,502.8 L823.5,502.8 L829.1,504.7 L838.5,507.5 L847.9,508.3 L854.5,508.1 L859.4,507.5 L861.2,503.3 L867.8,487.5 L871.5,482.1 L880.0,480.9 L886.0,477.8 L890.8,474.2 L893.0,476.0 L896.9,482.1 L903.0,483.3 L906.6,488.7 L912.6,490.6 L915.5,490.6 L922.9,492.1 L934.7,492.1 L939.1,489.9 L943.6,493.6 L949.5,495.0 L956.9,495.8 L962.8,499.5 L968.7,503.2 L973.1,506.9 L977.6,503.2 L983.5,502.4 L989.4,502.1 L994.6,499.5 L998.3,493.6 L1001.2,477.3 L1004.2,464.0 L1008.6,449.5 L1012.6,446.5 L1018.2,444.0 L1021.5,431.9 L1027.1,422.3 L1031.9,415.8 L1036.0,408.5 L1038.4,394.8 L1041.6,391.6 L1048.1,391.3 L1055.3,388.4 L1061.0,381.1 L1066.6,382.3 L1069.3,384.0 L1071.3,411.0 L1073.9,411.0 L1096.5,411.0 L1101.3,419.0 L1106.1,430.3 L1112.6,440.4 L1116.9,448.5 L1135.0,448.5 L1139.0,452.5 L1147.1,452.5 L1151.1,446.5 L1153.1,439.4 L1167.3,438.4 L1171.3,436.4 L1175.3,429.3 L1179.4,427.3 L1191.5,427.3 L1194.3,430.1 L1196.4,440.8 L1198.6,450.5 L1207.2,476.3 L1214.7,478.5 L1219.0,486.0 L1224.4,497.8 L1228.7,501.0 L1233.0,507.5 L1239.4,529.0 L1250.2,531.1 L1259.9,544.0 L1264.2,552.6 L1271.7,559.9 L1276.8,564.2 L1282.6,564.2 L1285.0,573.9" stroke="#00bcd4" stroke-width="1.6" fill="none" stroke-linejoin="round"/>
<path d="M96.5,720.0 L101.7,637.1 L105.1,636.2 L110.1,630.6 L113.5,641.3 L117.8,642.2 L122.0,652.8 L126.7,662.5 L130.1,661.0 L135.2,665.7 L138.5,664.4 L146.4,631.1 L151.1,652.6 L154.9,645.2 L160.0,662.5 L163.4,647.5 L168.1,640.0 L170.9,642.2 L174.7,638.1 L179.4,645.6 L182.6,639.0 L186.9,636.2 L191.0,622.5 L195.7,633.8 L198.7,630.0 L203.8,627.2 L208.2,647.5 L212.3,603.3 L215.7,597.3 L220.8,606.1 L224.1,582.6 L232.0,582.6 L237.1,600.1 L240.5,585.0 L245.2,587.8 L253.7,630.0 L257.5,615.5 L262.2,609.5 L265.9,644.7 L269.7,635.3 L279.1,586.9 L281.9,585.4 L284.7,569.4 L290.0,583.8 L293.4,579.2 L297.5,583.8 L302.0,574.4 L306.9,585.2 L310.1,540.8 L314.4,543.0 L323.0,527.4 L327.0,496.5 L331.6,493.0 L335.9,493.2 L340.5,491.1 L344.0,493.2 L348.5,508.5 L352.0,510.4 L356.1,509.9 L359.3,504.0 L364.1,519.8 L367.4,507.2 L371.4,511.2 L376.0,516.6 L384.3,485.2 L388.9,488.4 L392.4,508.0 L396.1,487.0 L400.4,497.3 L404.2,485.2 L409.0,475.0 L413.1,479.8 L417.9,483.0 L421.1,477.6 L425.2,443.2 L429.2,443.2 L433.2,448.6 L436.7,446.7 L441.6,449.9 L444.8,390.7 L450.2,401.5 L454.2,411.7 L458.2,424.3 L462.2,425.7 L466.3,429.2 L469.8,466.0 L473.8,468.7 L478.4,482.1 L483.7,460.6 L487.8,459.8 L491.8,460.1 L495.5,510.5 L498.5,508.3 L502.4,512.8 L506.5,504.0 L511.3,508.3 L515.0,496.5 L518.6,498.0 L522.3,505.4 L527.5,500.6 L531.2,503.1 L539.3,520.1 L543.8,529.0 L547.5,515.0 L551.9,510.5 L554.8,486.2 L557.8,480.2 L560.8,473.6 L564.5,469.9 L568.4,455.1 L571.8,472.9 L574.8,467.7 L577.8,469.9 L581.4,469.2 L586.6,472.9 L591.8,473.6 L595.5,480.2 L600.4,515.3 L605.0,513.4 L612.6,556.7 L617.3,552.9 L621.0,547.7 L624.8,560.5 L629.5,552.0 L633.3,548.2 L637.0,515.3 L641.8,504.9 L646.5,500.2 L650.2,513.4 L654.9,493.6 L657.8,515.3 L661.5,505.0 L664.3,481.4 L670.9,476.7 L676.6,485.2 L680.3,493.6 L686.0,494.6 L690.7,499.3 L695.4,493.6 L699.2,489.9 L703.9,492.7 L708.6,504.0 L713.3,513.4 L715.2,517.2 L719.9,514.3 L724.0,501.2 L728.9,530.3 L733.0,484.2 L735.5,487.0 L739.7,494.3 L743.5,498.1 L748.2,506.6 L751.0,505.6 L757.6,484.0 L760.4,466.1 L765.1,447.7 L769.8,455.8 L773.6,461.8 L777.3,461.4 L781.7,458.6 L784.9,463.3 L789.6,483.1 L792.4,469.9 L797.1,468.0 L800.9,476.5 L806.5,489.6 L810.3,497.2 L815.0,501.9 L818.8,500.6 L822.5,499.0 L826.8,482.1 L831.0,484.0 L834.8,506.6 L838.5,510.7 L842.4,505.1 L846.1,506.3 L849.1,504.5 L852.1,508.7 L855.1,511.7 L859.4,520.2 L864.2,510.5 L869.0,502.1 L872.7,493.6 L875.7,484.5 L878.7,491.8 L881.8,490.0 L885.4,487.5 L890.8,482.1 L895.0,465.0 L899.8,424.3 L903.5,409.3 L908.2,408.0 L912.0,400.4 L917.1,411.7 L920.5,378.2 L925.2,360.9 L928.6,372.6 L933.6,377.9 L936.8,392.9 L941.2,392.3 L944.9,389.9 L949.6,397.1 L953.4,398.9 L958.1,396.1 L961.3,364.1 L969.4,429.0 L973.2,432.3 L976.9,425.3 L981.3,422.5 L986.3,430.9 L990.1,425.3 L994.8,430.6 L997.6,430.0 L1002.0,435.6 L1006.1,448.1 L1010.5,461.0 L1014.2,448.1 L1019.0,444.5 L1022.3,451.3 L1026.3,448.1 L1031.1,455.3 L1036.0,434.4 L1039.2,447.3 L1043.5,440.2 L1048.1,435.2 L1053.0,435.5 L1059.4,443.2 L1063.4,444.8 L1065.8,430.3 L1069.8,415.8 L1073.9,413.4 L1077.1,415.0 L1080.3,413.4 L1082.7,438.4 L1088.4,440.8 L1090.8,448.1 L1092.4,455.6 L1096.7,508.2 L1100.7,511.3 L1106.0,515.9 L1109.1,514.4 L1116.2,526.7 L1121.4,548.4 L1130.1,512.8 L1133.2,536.0 L1141.8,520.6 L1147.1,531.4 L1150.2,533.5 L1157.9,568.5 L1162.6,571.6 L1171.8,617.9 L1175.8,615.8 L1179.6,593.2 L1183.6,584.9" stroke="#ffffff" stroke-width="1.9" fill="none" stroke-linejoin="round"/>
<path d="M469.8,395.5L1490,344M461.8,519.1L1477.7,677.1" stroke="#e5d63c" stroke-width="1.3" fill="none"/>
<path d="M1347.5,350V226.5M1340,233L1347.5,226L1355,233M1367.5,353V113.5M1360,120.5L1367.5,113.5L1375,120.5" stroke="#9c27b0" stroke-width="1.5" fill="none"/>
<path d="M0,127.5H1633M0,236.5H1633" stroke="#f44336" stroke-width="1.2" stroke-dasharray="5 6" stroke-dashoffset="7" fill="none"/>
<path d="M0,586.5H1633" stroke="#26a69a" stroke-width="1" stroke-dasharray="1 2" stroke-dashoffset="1" fill="none"/>
</g>
<path d="M0,57.5H1737M1633.5,58V744M0,699.5H1735" stroke="#2a2e39" stroke-width="1" fill="none"/>
<rect x="1736" y="0" width="1" height="744" fill="#ececec"/>
<rect x="1735" y="57" width="1" height="687" fill="#0c0e14"/>
<path d="M159.5,0V57 M438.5,0V57 M501.5,0V57 M566.5,0V57 M664,0V57 M728,0V57 M792.5,0V57 M856.5,0V57 M921.5,0V57 M1025,0V57 M1155,0V57 M1219,0V57 M1415.5,0V57 M1480,0V57 M1544,0V57" stroke="#2a2e39" stroke-width="1.5" fill="none"/>
<text x="9.2" y="34.0" font-size="21.5" font-weight="bold" fill="#d1d4dc" stroke="#d1d4dc" stroke-width="0.1" textLength="97.3" lengthAdjust="spacingAndGlyphs">BTCUSDT</text>
<text x="174.2" y="33.7" font-size="22" font-weight="normal" fill="#d1d4dc" stroke="#d1d4dc" stroke-width="0.35" textLength="29.3" lengthAdjust="spacingAndGlyphs">5m</text>
<text x="226.0" y="33.7" font-size="22" font-weight="normal" fill="#d1d4dc" stroke="#d1d4dc" stroke-width="0.35" textLength="41.1" lengthAdjust="spacingAndGlyphs">15m</text>
<text x="289.0" y="33.7" font-size="22" font-weight="normal" fill="#d1d4dc" stroke="#d1d4dc" stroke-width="0.35" textLength="22.5" lengthAdjust="spacingAndGlyphs">1h</text>
<text x="332.2" y="33.7" font-size="22" font-weight="normal" fill="#2962ff" stroke="#2962ff" stroke-width="0.35" textLength="23.3" lengthAdjust="spacingAndGlyphs">4h</text>
<text x="377.1" y="33.7" font-size="22" font-weight="normal" fill="#d1d4dc" stroke="#d1d4dc" stroke-width="0.35" textLength="12.9" lengthAdjust="spacingAndGlyphs">D</text>
<path d="M414.5,22.5L420.7,28.5L426.9,22.5 M460.8,14.2h6.8v21.7h-6.8Z M464.2,8.6V14.2 M464.2,35.9V41.6 M474,19.2h6.8v11.4h-6.8Z M477.4,13.2V19.2 M477.4,30.6V36.7 M548.2,25.7A15,15 0 1 1 518.2,25.7A15,15 0 1 1 548.2,25.7Z M525.4,25.7H541 M533.2,18.1V33.3 M604.6,14.7C603.5,11.5 601.8,10.6 599.8,10.6C597.2,10.6 595.8,12.6 595.8,15.8V33.3C595.8,36 594,37.4 591.6,37.4C589.2,37.4 587.6,36 587,33.8 M590,20.7H602.2 M600.4,29.9L608.4,38 M608.4,29.9L600.4,38 M640.4,22.6L646.5,28.4L652.6,22.6 M681.8,29.2h6.6v8.2h-6.6Z M688.4,19.4h6.8v18h-6.8Z M695.2,25h6.9v12.4h-6.9Z M702.1,13.9h6.3v23.5h-6.3Z M746.4,21.8L754,13.6L764.4,21.4L774.8,11.7 M747.8,31.8V37.6 M754,24.9V37.6 M760.9,28.3V37.6 M767.6,31.8V37.6 M774.1,24.9V37.6 M836.4,26.2A13.3,13.3 0 1 0 823.1,39.5 M810.6,21.8A6.3,6.3 0 0 1 820.4,13.3 M825.8,13.3A6.3,6.3 0 0 1 835.6,21.8 M823.7,17V26.2H818 M833.8,28.3V42.8 M826.3,36H841.1 M888.4,15.5L877.6,25.7L888.4,36Z M901.9,15.5L891.3,25.7L901.9,36Z M945.1,16.8L939,22.4L945.1,28.3 M939.3,22.4H951C955.8,22.4 959,26.5 959,33.3 M1175.5,12.6h24.5a3,3 0 0 1 3,3v20.6a3,3 0 0 1 -3,3h-24.5a3,3 0 0 1 -3,-3v-20.6a3,3 0 0 1 3,-3Z M1392.6,22.2L1398.8,28.4L1405,22.2 M1445.19,13.62 L1445.33,9.51 L1450.47,9.51 L1450.61,13.62 L1453.96,15.01 L1456.96,12.20 L1460.60,15.84 L1457.79,18.84 L1459.18,22.19 L1463.29,22.33 L1463.29,27.47 L1459.18,27.61 L1457.79,30.96 L1460.60,33.96 L1456.96,37.60 L1453.96,34.79 L1450.61,36.18 L1450.47,40.29 L1445.33,40.29 L1445.19,36.18 L1441.84,34.79 L1438.84,37.60 L1435.20,33.96 L1438.01,30.96 L1436.62,27.61 L1432.51,27.47 L1432.51,22.33 L1436.62,22.19 L1438.01,18.84 L1435.20,15.84 L1438.84,12.20 L1441.84,15.01Z M1452.5,24.9A4.6,4.6 0 1 1 1443.3000000000002,24.9A4.6,4.6 0 1 1 1452.5,24.9Z M1499.3,21V12.5H1507.8 M1499.3,12.5L1508.5,21.7 M1524.3,21V12.5H1515.8 M1524.3,12.5L1515.1,21.7 M1499.3,29V37.5H1507.8 M1499.3,37.5L1508.5,28.3 M1524.3,29V37.5H1515.8 M1524.3,37.5L1515.1,28.3 M1561.7,14.2H1567.8L1569,11H1580.5L1581.7,14.2H1588.9a2.6,2.6 0 0 1 2.6,2.6V34.3a2.6,2.6 0 0 1 -2.6,2.6H1561.7a2.6,2.6 0 0 1 -2.6,-2.6V16.8a2.6,2.6 0 0 1 2.6,-2.6Z M1582,25.6A7,7 0 1 1 1568,25.6A7,7 0 1 1 1582,25.6Z" stroke="#c4c7cf" stroke-width="1.5" fill="none" stroke-linejoin="round"/>
<path d="M999.5,16.8L1005.6,22.4L999.5,28.3 M1005.3,22.4H993.6C988.8,22.4 984.8,26.5 984.8,33.3" stroke="#4a4e5a" stroke-width="1.5" fill="none"/>
<path d="M1238,37H1265.5A5.5,5.5 0 0 0 1265.6,26A12.6,12.6 0 0 0 1240.5,22.5A7.4,7.4 0 0 0 1238,37Z" stroke="#c4c7cf" stroke-width="1.5" fill="none" stroke-dasharray="4 2.6"/>
<text x="1278.2" y="33.6" font-size="21.5" font-weight="normal" fill="#d1d4dc" stroke="#d1d4dc" stroke-width="0.35" textLength="93.3" lengthAdjust="spacingAndGlyphs">Anonyme</text>
<rect x="1608" y="0" width="128" height="57" fill="#2962ff"/>
<text x="1635.3" y="34.0" font-size="24.8" font-weight="normal" fill="#e8eaf0" stroke="#e8eaf0" stroke-width="0.35" textLength="77.3" lengthAdjust="spacingAndGlyphs">Publier</text>
<text x="9.4" y="93.8" font-size="25.5" font-weight="normal" fill="#c3c6ce" stroke="#c3c6ce" stroke-width="0.35" textLength="105.7" lengthAdjust="spacingAndGlyphs">BTCUSDT</text>
<text x="124.1" y="93.8" font-size="25.5" font-weight="normal" fill="#c3c6ce" stroke="#c3c6ce" stroke-width="0.35" textLength="111.9" lengthAdjust="spacingAndGlyphs">Perpetual</text>
<text x="245.0" y="93.8" font-size="25.5" font-weight="normal" fill="#c3c6ce" stroke="#c3c6ce" stroke-width="0.35" textLength="101.8" lengthAdjust="spacingAndGlyphs">Contract</text>
<circle cx="357" cy="86.3" r="1.7" fill="#5d606b"/><circle cx="405.1" cy="86.3" r="1.7" fill="#5d606b"/>
<text x="367.4" y="93.8" font-size="25.5" font-weight="normal" fill="#c3c6ce" stroke="#c3c6ce" stroke-width="0.35" textLength="26.5" lengthAdjust="spacingAndGlyphs">4h</text>
<text x="416.4" y="93.8" font-size="25.5" font-weight="normal" fill="#c3c6ce" stroke="#c3c6ce" stroke-width="0.35" textLength="65.8" lengthAdjust="spacingAndGlyphs">BYBIT</text>
<circle cx="522.4" cy="84.7" r="14.4" fill="#1b3336"/><circle cx="522.4" cy="84.7" r="6.9" fill="#1aa18f"/>
<text x="563.9" y="95.1" font-size="20.5" font-weight="normal" fill="#b2b5be" stroke="#b2b5be" stroke-width="0.35" textLength="13.8" lengthAdjust="spacingAndGlyphs">O</text>
<text x="581.2" y="95.1" font-size="20.5" font-weight="normal" fill="#26a69a" stroke="#26a69a" stroke-width="0.35" textLength="73.1" lengthAdjust="spacingAndGlyphs">57036.0</text>
<text x="665.8" y="95.1" font-size="20.5" font-weight="normal" fill="#b2b5be" stroke="#b2b5be" stroke-width="0.35" textLength="12.1" lengthAdjust="spacingAndGlyphs">H</text>
<text x="680.5" y="95.1" font-size="20.5" font-weight="normal" fill="#26a69a" stroke="#26a69a" stroke-width="0.35" textLength="74.8" lengthAdjust="spacingAndGlyphs">57345.0</text>
<text x="766.0" y="95.1" font-size="20.5" font-weight="normal" fill="#b2b5be" stroke="#b2b5be" stroke-width="0.35" textLength="12.2" lengthAdjust="spacingAndGlyphs">B</text>
<text x="780.0" y="95.1" font-size="20.5" font-weight="normal" fill="#26a69a" stroke="#26a69a" stroke-width="0.35" textLength="74.8" lengthAdjust="spacingAndGlyphs">56927.0</text>
<text x="864.8" y="95.1" font-size="20.5" font-weight="normal" fill="#b2b5be" stroke="#b2b5be" stroke-width="0.35" textLength="12.9" lengthAdjust="spacingAndGlyphs">C</text>
<text x="879.5" y="95.1" font-size="20.5" font-weight="normal" fill="#26a69a" stroke="#26a69a" stroke-width="0.35" textLength="74.8" lengthAdjust="spacingAndGlyphs">57343.5</text>
<text x="965.4" y="95.1" font-size="20.5" font-weight="normal" fill="#26a69a" stroke="#26a69a" stroke-width="0.35" textLength="150.7" lengthAdjust="spacingAndGlyphs">+307.5 (+0.54%)</text>
<rect x="7.5" y="111.5" width="100" height="39" rx="5.5" fill="#131722" stroke="#e53935" stroke-width="1.2"/>
<rect x="160.5" y="111.5" width="101" height="39" rx="5.5" fill="#131722" stroke="#2962ff" stroke-width="1.2"/>
<text x="21.0" y="137.7" font-size="20" font-weight="normal" fill="#e53935" stroke="#e53935" stroke-width="0.35" textLength="73.8" lengthAdjust="spacingAndGlyphs">57343.0</text>
<rect x="119.5" y="119" width="29" height="22" fill="#161a25"/>
<text x="121.7" y="136.3" font-size="17" font-weight="bold" fill="#e0e3eb" stroke="#e0e3eb" stroke-width="0.1" textLength="25.3" lengthAdjust="spacingAndGlyphs">0.5</text>
<text x="174.1" y="137.7" font-size="20" font-weight="normal" fill="#2f6cf5" stroke="#2f6cf5" stroke-width="0.35" textLength="73.8" lengthAdjust="spacingAndGlyphs">57343.5</text>
<text x="8.6" y="185.0" font-size="20.5" font-weight="normal" fill="#b2b5be" stroke="#b2b5be" stroke-width="0.35" textLength="85.4" lengthAdjust="spacingAndGlyphs">Ichimoku</text>
<text x="108.0" y="185.0" font-size="20.5" font-weight="normal" fill="#00bcd4" stroke="#00bcd4" stroke-width="0.35" textLength="74.4" lengthAdjust="spacingAndGlyphs">57882.8</text>
<text x="193.4" y="185.0" font-size="20.5" font-weight="normal" fill="#9c27b0" stroke="#9c27b0" stroke-width="0.35" textLength="73.6" lengthAdjust="spacingAndGlyphs">61024.3</text>
<text x="278.0" y="185.0" font-size="20.5" font-weight="normal" fill="#ffffff" stroke="#ffffff" stroke-width="0.35" textLength="75.0" lengthAdjust="spacingAndGlyphs">57343.5</text>
<text x="363.7" y="185.0" font-size="20.5" font-weight="normal" fill="#43a047" stroke="#43a047" stroke-width="0.35" textLength="74.3" lengthAdjust="spacingAndGlyphs">59453.5</text>
<text x="448.4" y="185.0" font-size="20.5" font-weight="normal" fill="#f44336" stroke="#f44336" stroke-width="0.35" textLength="74.9" lengthAdjust="spacingAndGlyphs">61024.3</text>
<text x="1650.3" y="111.9" font-size="19.5" font-weight="normal" fill="#b2b5be" stroke="#b2b5be" stroke-width="0.35" textLength="70.1" lengthAdjust="spacingAndGlyphs">84000.0</text>
<text x="1650.3" y="189.3" font-size="19.5" font-weight="normal" fill="#b2b5be" stroke="#b2b5be" stroke-width="0.35" textLength="70.1" lengthAdjust="spacingAndGlyphs">79000.0</text>
<text x="1650.3" y="271.7" font-size="19.5" font-weight="normal" fill="#b2b5be" stroke="#b2b5be" stroke-width="0.35" textLength="70.1" lengthAdjust="spacingAndGlyphs">74000.0</text>
<text x="1650.3" y="341.7" font-size="19.5" font-weight="normal" fill="#b2b5be" stroke="#b2b5be" stroke-width="0.35" textLength="70.1" lengthAdjust="spacingAndGlyphs">70000.0</text>
<text x="1650.3" y="415.9" font-size="19.5" font-weight="normal" fill="#b2b5be" stroke="#b2b5be" stroke-width="0.35" textLength="70.1" lengthAdjust="spacingAndGlyphs">66000.0</text>
<text x="1650.3" y="494.7" font-size="19.5" font-weight="normal" fill="#b2b5be" stroke="#b2b5be" stroke-width="0.35" textLength="70.1" lengthAdjust="spacingAndGlyphs">62000.0</text>
<text x="1650.3" y="557.2" font-size="19.5" font-weight="normal" fill="#b2b5be" stroke="#b2b5be" stroke-width="0.35" textLength="70.1" lengthAdjust="spacingAndGlyphs">59000.0</text>
<text x="1650.3" y="623.0" font-size="19.5" font-weight="normal" fill="#b2b5be" stroke="#b2b5be" stroke-width="0.35" textLength="70.1" lengthAdjust="spacingAndGlyphs">56000.0</text>
<text x="1650.3" y="678.2" font-size="19.5" font-weight="normal" fill="#b2b5be" stroke="#b2b5be" stroke-width="0.35" textLength="70.1" lengthAdjust="spacingAndGlyphs">53600.0</text>
<path d="M1633,113H1728a3,3 0 0 1 3,3V139.2a3,3 0 0 1 -3,3H1633Z" fill="#f44336"/>
<text x="1650.3" y="134.6" font-size="19.5" font-weight="normal" fill="#ffffff" stroke="#ffffff" stroke-width="0.35" textLength="70.1" lengthAdjust="spacingAndGlyphs">82500.0</text>
<path d="M1633,222H1728a3,3 0 0 1 3,3V248a3,3 0 0 1 -3,3H1633Z" fill="#f44336"/>
<text x="1650.3" y="243.5" font-size="19.5" font-weight="normal" fill="#ffffff" stroke="#ffffff" stroke-width="0.35" textLength="70.1" lengthAdjust="spacingAndGlyphs">75658.5</text>
<path d="M1633,571.5H1728a3,3 0 0 1 3,3V597.5a3,3 0 0 1 -3,3H1633Z" fill="#26a69a"/>
<text x="1650.3" y="593.0" font-size="19.5" font-weight="normal" fill="#ffffff" stroke="#ffffff" stroke-width="0.35" textLength="70.1" lengthAdjust="spacingAndGlyphs">57343.5</text>
<rect x="1655.5" y="68.5" width="62" height="33.5" rx="5" fill="#161a25" stroke="#3a3e4a" stroke-width="1"/>
<text x="1663.5" y="91.9" font-size="19" font-weight="normal" fill="#b2b5be" stroke="#b2b5be" stroke-width="0.35" textLength="46.0" lengthAdjust="spacingAndGlyphs">USDT</text>
<text x="53.0" y="730.0" font-size="20" font-weight="bold" fill="#b2b5be" stroke="#b2b5be" stroke-width="0.1" textLength="32.0" lengthAdjust="spacingAndGlyphs">Oct</text>
<text x="305.0" y="730" font-size="20" fill="#b2b5be" stroke="#b2b5be" stroke-width="0.6" textLength="18.2" lengthAdjust="spacingAndGlyphs">11</text>
<text x="477.2" y="730" font-size="20" fill="#b2b5be" stroke="#b2b5be" stroke-width="0.6" textLength="19.7" lengthAdjust="spacingAndGlyphs">18</text>
<text x="648.3" y="730" font-size="20" fill="#b2b5be" stroke="#b2b5be" stroke-width="0.6" textLength="20.4" lengthAdjust="spacingAndGlyphs">25</text>
<text x="813.1" y="730.0" font-size="20" font-weight="bold" fill="#b2b5be" stroke="#b2b5be" stroke-width="0.1" textLength="35.3" lengthAdjust="spacingAndGlyphs">Nov</text>
<text x="996.8" y="730" font-size="20" fill="#b2b5be" stroke="#b2b5be" stroke-width="0.6" textLength="10.7" lengthAdjust="spacingAndGlyphs">8</text>
<text x="1164.2" y="730" font-size="20" fill="#b2b5be" stroke="#b2b5be" stroke-width="0.6" textLength="19.7" lengthAdjust="spacingAndGlyphs">15</text>
<text x="1336.3" y="730" font-size="20" fill="#b2b5be" stroke="#b2b5be" stroke-width="0.6" textLength="20.4" lengthAdjust="spacingAndGlyphs">22</text>
<text x="1549.5" y="730.0" font-size="20" font-weight="bold" fill="#b2b5be" stroke="#b2b5be" stroke-width="0.1" textLength="35.0" lengthAdjust="spacingAndGlyphs">Déc</text>
<path d="M1694.4,722.3A8,8 0 1 1 1678.4,722.3A8,8 0 1 1 1694.4,722.3Z M1695.00,722.30L1698.80,722.30 M1692.48,728.38L1695.17,731.07 M1686.40,730.90L1686.40,734.70 M1680.32,728.38L1677.63,731.07 M1677.80,722.30L1674.00,722.30 M1680.32,716.22L1677.63,713.53 M1686.40,713.70L1686.40,709.90 M1692.48,716.22L1695.17,713.53" stroke="#9598a1" stroke-width="1.6" fill="none"/>
</svg></body></html>
